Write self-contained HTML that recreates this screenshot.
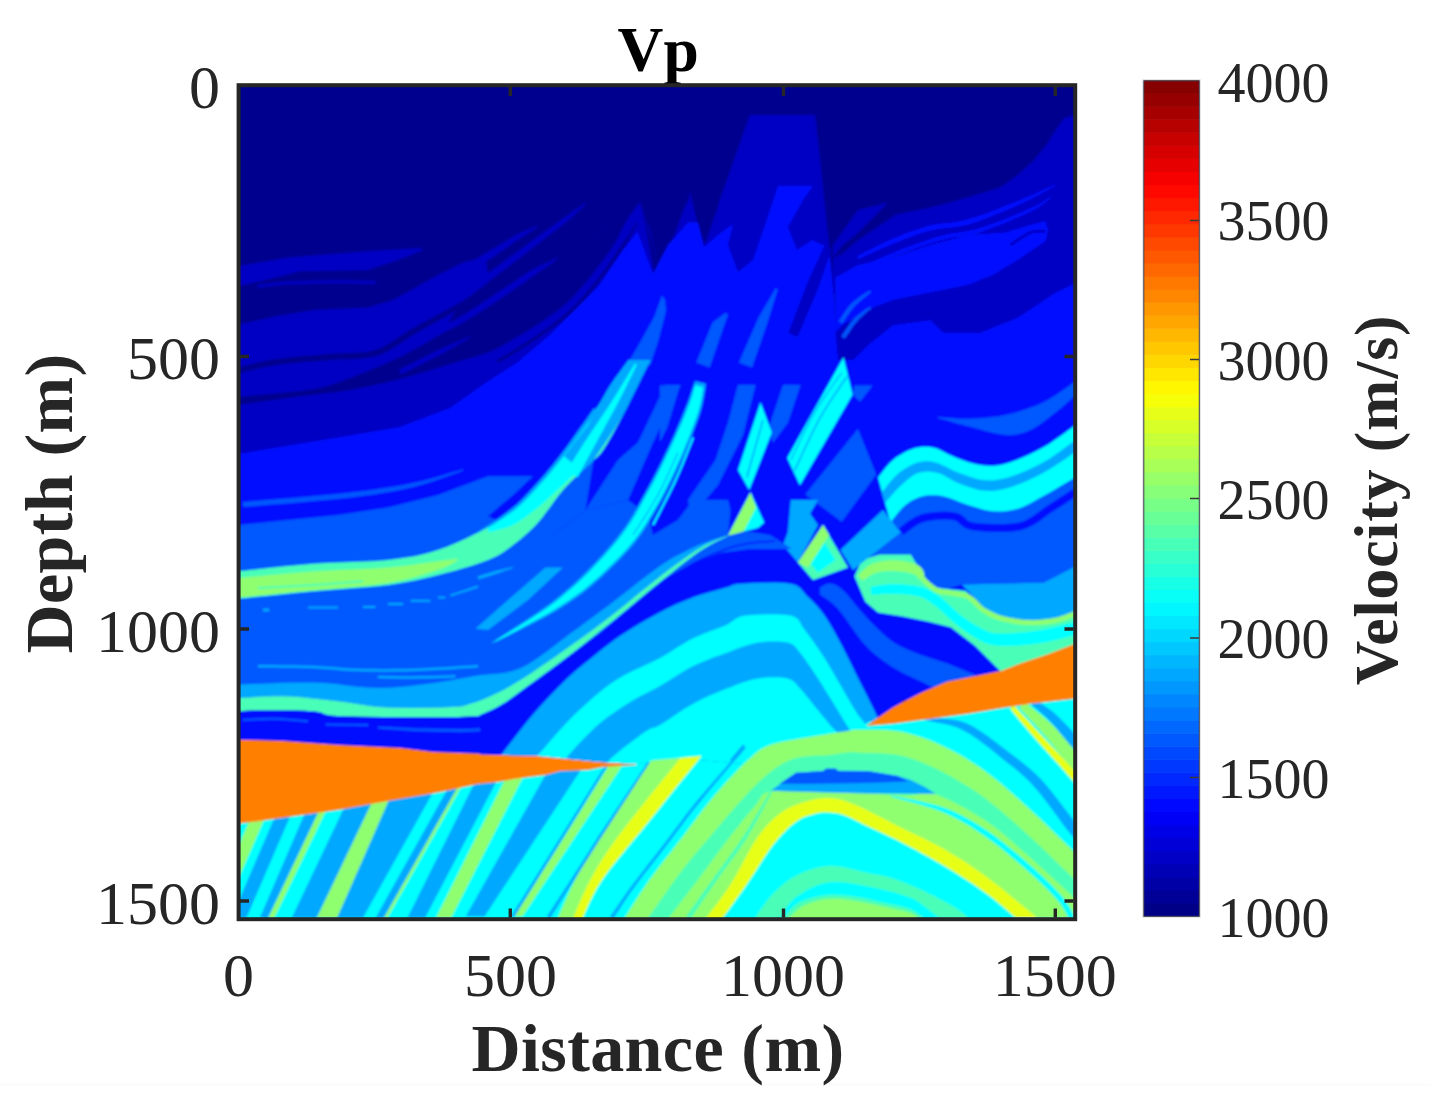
<!DOCTYPE html>
<html><head><meta charset="utf-8"><title>Vp</title>
<style>
html,body{margin:0;padding:0;background:#fff;}
body{width:1431px;height:1101px;overflow:hidden;}
svg{display:block;}
text{font-family:"Liberation Serif",serif;fill:#262626;}
.tk{font-size:62px;}
.ck{font-size:56px;}
.lb{font-size:68px;font-weight:bold;letter-spacing:0.4px;}
.cl{font-size:61.5px;font-weight:bold;letter-spacing:0.9px;}
.tt{font-size:63.5px;font-weight:bold;fill:#000;}
</style></head><body>
<svg width="1431" height="1101" viewBox="0 0 1431 1101">
<rect width="1431" height="1101" fill="#fff"/>
<rect x="0" y="1083" width="1431" height="3" fill="#fcfcfc"/>
<defs><clipPath id="pc"><rect x="238" y="84" width="838" height="836"/></clipPath><filter id="bl" x="0" y="0" width="1431" height="1101" filterUnits="userSpaceOnUse"><feGaussianBlur stdDeviation="0.8"/></filter></defs>
<text class="tt" x="658.2" y="70.6" text-anchor="middle">Vp</text>
<g clip-path="url(#pc)"><g filter="url(#bl)">
<rect x="230" y="80" width="860" height="850" fill="#00008f"/>
<polygon fill="#0000c4" points="238.0,266.2 288.0,257.5 368.0,251.2 420.5,248.0 423.0,250.0 398.0,260.0 368.0,270.0 300.5,271.2 275.5,277.5 238.0,286.2"/>
<polygon fill="#0000c4" points="258.2,287.7 261.2,287.4 265.2,286.8 270.1,286.2 275.6,285.5 281.6,285.0 288.1,284.5 295.4,284.2 303.7,283.9 312.6,283.6 321.5,283.4 330.2,283.3 338.0,283.2 345.4,283.3 352.8,283.4 359.8,283.5 366.2,283.7 371.5,283.9 375.5,284.0 375.5,281.0 371.6,280.9 366.3,280.7 359.9,280.5 352.8,280.4 345.4,280.3 338.0,280.3 330.1,280.3 321.5,280.4 312.5,280.6 303.6,280.9 295.3,281.2 287.9,281.5 281.4,282.0 275.2,282.6 269.7,283.2 264.8,283.8 260.8,284.4 257.8,284.8"/>
<polygon fill="#0000c4" points="235.5,325.5 275.5,316.2 313.0,310.0 368.0,307.5 393.0,300.0 438.0,275.0 463.0,262.5 485.5,257.5 488.0,275.0 463.0,297.5 443.0,332.5 413.0,359.8 413.0,485.0 235.5,485.0"/>
<polygon fill="#0000c4" points="537.3,225.8 535.0,226.6 531.9,227.9 528.2,229.4 524.2,231.2 520.1,233.1 516.1,235.0 512.3,237.1 508.5,239.4 504.6,241.7 500.6,244.2 496.4,246.7 492.0,249.3 487.2,252.2 482.0,255.3 476.6,258.4 471.3,261.5 466.2,264.4 461.5,266.8 457.1,268.9 452.6,270.8 448.2,272.6 444.2,274.0 440.8,275.3 438.2,276.2 442.0,285.5 444.4,284.4 447.7,283.0 451.7,281.4 456.2,279.4 461.0,277.2 465.7,274.7 470.5,271.9 475.6,268.7 480.9,265.2 486.1,261.7 491.1,258.4 495.7,255.2 500.0,252.3 504.1,249.5 507.9,246.7 511.6,244.1 515.2,241.6 518.7,239.3 522.2,236.8 526.0,234.4 529.7,232.1 533.0,229.9 535.8,228.1 537.8,226.7"/>
<polygon fill="#0000c4" points="585.1,203.1 582.8,204.6 579.7,206.7 576.1,209.2 572.0,212.1 567.6,215.2 562.9,218.4 558.0,222.0 552.6,226.0 546.8,230.2 540.8,234.6 534.8,238.9 529.0,243.1 523.4,247.3 517.7,251.4 512.1,255.6 506.4,259.7 500.8,263.8 495.1,268.0 489.5,272.1 483.8,276.3 478.2,280.5 472.5,284.6 466.9,288.7 461.3,292.7 455.3,296.9 448.8,301.4 442.3,305.8 436.2,309.9 431.1,313.3 427.4,315.8 432.6,323.2 436.2,320.6 441.2,317.0 447.1,312.8 453.6,308.2 460.0,303.6 466.0,299.2 471.5,295.0 477.1,290.8 482.7,286.5 488.2,282.1 493.8,277.8 499.3,273.6 504.9,269.3 510.4,265.0 516.0,260.8 521.5,256.5 527.1,252.2 532.6,247.9 538.3,243.6 544.2,239.1 550.1,234.6 555.8,230.2 561.1,226.1 566.0,222.3 570.3,218.6 574.3,214.9 578.0,211.5 581.2,208.5 583.8,205.9 585.8,203.9"/>
<polygon fill="#0000c4" points="557.5,257.7 554.4,259.0 550.3,260.9 545.5,263.2 540.2,265.8 534.7,268.6 529.2,271.6 523.8,275.0 518.2,278.7 512.4,282.7 506.6,286.7 500.7,290.6 495.0,294.3 489.4,298.1 483.8,301.8 478.2,305.5 472.7,309.2 467.1,312.7 461.6,316.1 456.0,319.3 450.4,322.3 444.8,325.3 439.2,328.2 433.5,331.1 427.9,334.0 421.9,337.0 415.5,340.2 409.0,343.3 403.0,346.2 397.9,348.6 394.2,350.3 398.6,359.3 402.2,357.4 407.2,354.8 413.2,351.8 419.6,348.5 426.1,345.2 432.1,342.0 437.7,338.9 443.2,335.9 448.8,332.8 454.4,329.6 460.1,326.3 465.7,322.9 471.3,319.5 477.0,315.9 482.6,312.2 488.2,308.5 493.9,304.7 499.5,301.0 505.1,296.9 510.8,292.6 516.5,288.4 522.1,284.2 527.4,280.2 532.5,276.6 537.4,273.0 542.4,269.5 547.3,266.2 551.7,263.2 555.3,260.6 558.0,258.6"/>
<polygon fill="#0000c4" points="238.0,400.0 420.0,352.0 470.0,325.0 520.0,290.0 560.0,262.0 600.0,232.0 640.0,203.0 650.0,230.0 660.0,275.0 690.0,192.0 700.0,235.0 705.0,245.0 718.0,205.0 750.0,115.0 815.0,115.0 820.0,160.0 828.0,235.0 836.0,310.0 848.0,385.0 848.0,420.0 238.0,470.0"/>
<polygon fill="#00008f" points="232.7,374.9 237.4,373.8 243.8,372.1 251.3,370.2 259.6,368.3 268.2,366.4 276.5,365.0 284.9,363.8 293.8,362.9 303.1,362.1 312.5,361.4 321.6,360.7 330.2,360.0 338.4,359.5 346.3,359.3 354.1,359.1 361.8,358.6 369.4,357.6 376.9,355.9 383.9,353.2 390.3,349.8 396.4,346.0 402.4,341.9 408.7,337.8 415.5,333.6 423.0,329.3 431.1,324.8 439.5,320.1 448.1,315.3 456.8,310.3 465.3,305.1 474.3,299.4 484.0,293.0 493.7,286.4 502.8,280.3 510.4,275.0 515.8,271.3 514.2,268.7 508.5,272.3 500.7,277.2 491.5,283.1 481.6,289.3 471.8,295.4 462.7,300.9 454.2,305.8 445.5,310.6 436.9,315.3 428.4,319.8 420.2,324.2 412.5,328.4 405.5,332.7 399.1,337.0 393.1,341.0 387.3,344.6 381.4,347.7 375.1,350.1 368.4,351.7 361.3,352.6 353.9,353.1 346.1,353.3 338.1,353.5 329.8,354.0 321.1,354.7 312.0,355.4 302.6,356.1 293.3,356.9 284.2,357.9 275.5,359.0 267.0,360.5 258.3,362.4 249.9,364.4 242.3,366.3 235.9,367.9 231.3,369.1"/>
<polygon fill="#00008f" points="230.0,397.5 239.3,396.7 252.6,395.6 268.1,394.2 284.1,392.7 299.0,391.1 311.0,389.5 319.8,387.9 326.7,386.3 332.4,384.6 337.7,382.7 343.3,380.5 350.0,378.0 357.8,375.1 366.1,371.8 374.8,368.3 383.4,364.6 391.9,360.8 400.0,357.0 407.8,353.0 415.7,348.7 423.3,344.4 430.6,340.1 437.2,336.3 443.0,333.0 447.6,330.5 451.2,328.7 454.1,327.3 456.9,325.9 460.1,324.3 464.0,322.0 468.8,319.1 474.1,315.8 479.7,312.2 485.5,308.5 491.3,304.7 497.0,301.0 502.7,297.2 508.5,293.3 514.4,289.2 520.1,285.3 525.7,281.5 531.0,278.0 536.0,274.8 540.7,271.8 545.2,269.0 549.6,266.3 553.9,263.6 558.0,261.0 562.0,258.4 565.8,255.8 569.4,253.3 573.0,250.9 576.5,248.4 580.0,246.0 583.4,243.7 586.6,241.4 589.8,239.2 593.0,237.0 596.4,234.6 600.0,232.0 604.0,229.0 608.4,225.7 612.9,222.2 617.3,218.9 621.4,215.7 625.0,213.0 628.1,210.7 631.0,208.6 633.6,206.8 635.8,205.3 637.6,204.0 639.0,203.0 636.0,208.0 634.9,209.4 633.5,211.2 631.8,213.4 629.9,216.0 628.0,218.9 626.0,222.0 624.1,225.4 622.3,229.2 620.4,233.2 618.3,237.6 615.9,242.2 613.0,247.0 609.5,252.2 605.6,258.0 601.2,263.9 596.8,269.9 592.3,275.7 588.0,281.0 583.9,285.9 579.8,290.4 575.8,294.8 571.6,299.0 567.4,303.0 563.0,307.0 558.5,310.8 554.0,314.3 549.4,317.8 544.6,321.1 539.5,324.5 534.0,328.0 528.0,331.7 521.6,335.6 514.9,339.4 508.0,343.2 501.0,346.8 494.0,350.0 487.0,352.8 479.9,355.2 472.6,357.4 465.3,359.6 457.7,361.7 450.0,364.0 442.0,366.5 433.8,369.1 425.4,371.7 416.9,374.3 408.4,376.7 400.0,379.0 391.5,381.1 382.9,383.2 374.3,385.1 365.9,386.9 357.7,388.6 350.0,390.0 343.3,391.1 337.7,391.9 332.4,392.5 326.7,393.1 319.8,393.9 311.0,395.0 299.0,396.6 284.1,398.6 268.1,400.8 252.6,402.9 239.3,404.7 230.0,406.0"/>
<polygon fill="#0000c4" points="401.1,374.2 405.6,372.0 411.9,368.9 419.2,365.2 427.0,361.3 434.6,357.5 441.1,354.2 446.9,351.0 452.7,347.7 458.2,344.6 463.1,341.7 467.2,339.3 470.2,337.4 469.8,336.6 466.5,337.8 462.1,339.7 456.8,341.9 451.0,344.4 445.0,347.1 438.9,349.8 432.3,353.0 424.8,356.8 417.0,360.7 409.6,364.4 403.3,367.5 398.9,369.8"/>
<polygon fill="#0000c4" points="639.2,203.0 637.8,204.8 636.0,207.3 633.8,210.4 631.4,213.8 628.9,217.4 626.6,221.0 624.5,224.8 622.6,228.7 620.6,232.8 618.5,237.0 616.1,241.5 613.2,246.1 609.7,251.3 605.7,256.9 601.4,262.7 596.9,268.6 592.4,274.3 588.1,279.6 584.0,284.5 580.1,289.1 576.1,293.6 572.1,297.9 567.8,302.1 563.2,306.2 558.1,310.3 552.7,314.3 547.0,318.3 541.3,322.1 535.5,325.9 529.8,329.6 524.0,333.1 518.2,336.6 512.4,339.9 506.6,343.2 501.1,346.3 495.9,349.3 490.9,352.2 485.9,355.1 481.1,357.9 476.8,360.4 473.2,362.5 470.5,364.0 473.6,369.1 476.2,367.5 479.7,365.2 483.9,362.6 488.6,359.7 493.6,356.6 498.5,353.6 503.6,350.5 509.0,347.2 514.7,343.8 520.4,340.3 526.2,336.6 531.9,332.9 537.6,329.3 543.5,325.5 549.3,321.6 555.0,317.6 560.6,313.5 565.8,309.3 570.5,305.0 574.9,300.7 579.1,296.3 583.1,291.7 587.1,287.0 591.2,282.1 595.6,276.8 600.1,271.0 604.6,265.1 609.0,259.2 613.0,253.6 616.6,248.3 619.5,243.5 622.1,238.9 624.2,234.6 626.2,230.5 628.1,226.6 630.1,223.0 632.1,219.3 634.2,215.6 636.3,212.0 638.2,208.8 639.8,206.1 640.9,204.1"/>
<polygon fill="#00008f" points="637.1,221.8 635.6,224.1 633.5,227.3 631.1,231.1 628.4,235.4 625.3,240.0 622.0,244.7 618.5,250.0 614.5,255.8 610.1,262.0 605.7,268.3 601.2,274.3 596.9,279.9 592.7,285.1 588.5,290.2 584.3,295.1 580.2,299.7 576.0,304.2 571.8,308.3 567.7,312.1 563.7,315.6 559.6,318.8 555.5,322.0 551.3,325.1 546.8,328.4 541.9,331.8 536.7,335.4 531.4,338.9 526.1,342.4 521.1,345.6 516.6,348.5 512.4,351.0 508.4,353.4 504.7,355.6 501.3,357.5 498.6,359.0 496.5,360.2 498.0,362.8 500.0,361.6 502.8,360.1 506.2,358.2 509.9,356.0 514.0,353.6 518.2,351.0 522.7,348.1 527.7,344.9 533.0,341.4 538.4,337.9 543.6,334.3 548.5,330.8 553.0,327.5 557.3,324.4 561.5,321.2 565.6,317.9 569.7,314.4 573.9,310.5 578.1,306.3 582.4,301.8 586.6,297.1 590.8,292.1 595.0,287.0 599.2,281.8 603.6,276.1 608.1,270.0 612.6,263.7 616.9,257.5 620.9,251.7 624.5,246.4 627.6,241.4 630.4,236.6 632.9,232.1 635.0,228.1 636.7,224.8 638.0,222.3"/>
<polygon fill="#00008f" points="641.8,206.2 654.2,273.8 690.5,195.0 675.5,205.0 656.8,260.0"/>
<polygon fill="#00008f" points="695.0,202.5 704.2,242.5 718.5,206.2"/>
<polygon fill="#0000c4" points="833.0,245.0 858.0,210.0 888.0,202.5 878.0,212.5 858.0,232.5 838.0,257.5 858.0,240.0 896.0,214.5 930.5,207.5 958.5,200.0 1000.0,187.5 1016.8,175.8 1033.5,160.8 1047.0,144.0 1055.5,130.5 1063.8,118.8 1073.0,115.2 1079.2,114.5 1079.2,420.0 833.0,420.0"/>
<polygon fill="#00008f" points="835.5,257.5 858.0,240.0 878.0,225.0 868.0,225.0 843.0,245.0 833.0,257.5"/>
<polygon fill="#0010ff" points="238.0,454.0 338.0,437.5 400.0,427.0 450.0,408.0 484.0,384.0 518.0,362.0 551.0,334.0 568.0,317.0 585.0,300.0 598.0,287.0 623.0,250.0 637.5,232.0 653.0,274.0 668.0,245.0 688.0,222.5 698.0,222.5 704.0,247.0 718.0,235.0 733.0,224.0 728.0,245.0 738.0,272.0 753.0,260.0 765.0,225.0 778.0,186.0 813.0,186.0 803.0,200.0 788.0,227.0 797.0,250.0 812.0,240.0 829.0,248.0 834.0,300.0 836.0,335.0 853.0,360.0 868.0,345.0 893.0,325.0 930.5,320.0 943.0,332.5 980.5,332.5 1018.0,317.5 1055.5,292.5 1080.0,281.0 1080.0,700.0 238.0,700.0"/>
<polygon fill="#0010ff" points="858.6,258.9 862.5,257.2 867.8,254.8 874.0,252.0 880.8,249.0 887.6,246.1 894.0,243.6 900.0,241.1 906.2,238.7 912.4,236.3 918.7,234.1 924.9,232.1 931.1,230.4 937.0,229.2 942.8,228.4 948.7,227.8 954.9,227.2 961.5,226.1 968.7,224.4 976.5,221.9 985.0,218.8 993.8,215.3 1002.6,211.7 1011.0,208.2 1018.8,204.8 1026.1,201.3 1033.5,197.6 1040.4,193.9 1046.7,190.5 1051.9,187.6 1055.7,185.4 1055.3,184.6 1051.2,186.3 1045.8,188.7 1039.3,191.7 1032.2,194.9 1024.7,198.1 1017.2,201.2 1009.4,204.3 1001.0,207.7 992.2,211.2 983.4,214.4 975.0,217.3 967.3,219.6 960.5,221.2 954.2,222.2 948.2,222.9 942.2,223.5 936.2,224.3 929.9,225.6 923.5,227.4 917.1,229.4 910.7,231.6 904.4,234.0 898.2,236.5 892.0,238.9 885.7,241.8 878.9,245.1 872.3,248.4 866.2,251.5 861.1,254.2 857.4,256.1"/>
<polygon fill="#0010ff" points="868.6,266.4 872.7,264.8 878.4,262.6 885.1,259.9 892.3,257.1 899.5,254.3 906.2,251.9 912.4,249.6 918.7,247.3 924.9,245.2 931.1,243.1 937.3,241.2 943.5,239.4 949.5,238.1 955.4,237.1 961.3,236.2 967.4,235.2 974.0,233.9 981.1,231.9 989.1,229.1 998.0,225.7 1007.3,221.9 1016.2,218.1 1024.4,214.5 1031.1,211.4 1036.4,208.5 1040.7,205.8 1044.2,203.3 1046.9,201.1 1049.1,199.3 1050.8,197.9 1050.2,197.1 1048.3,198.2 1045.9,199.8 1043.1,201.7 1039.5,203.8 1035.2,206.2 1029.9,208.6 1023.1,211.6 1014.9,215.0 1005.9,218.7 996.7,222.3 987.8,225.5 979.9,228.1 973.1,230.0 966.7,231.3 960.7,232.2 954.7,233.1 948.7,234.1 942.5,235.6 936.2,237.3 929.9,239.3 923.6,241.4 917.3,243.6 911.1,245.8 904.8,248.1 898.1,250.7 890.9,253.7 883.7,256.7 877.1,259.5 871.5,261.9 867.4,263.6"/>
<polygon fill="#0010ff" points="835.5,277.5 858.0,265.0 893.0,257.5 930.5,245.0 968.0,235.0 1005.5,232.5 1030.5,225.0 1045.5,221.2 1048.0,230.0 1045.5,241.2 1018.0,260.0 993.0,275.0 968.0,285.0 930.5,292.5 893.0,300.0 868.0,310.0 843.0,325.0 835.5,332.5"/>
<polygon fill="#0000c4" points="1011.3,246.2 1013.6,244.7 1016.7,242.6 1020.4,240.1 1024.3,237.6 1027.9,235.4 1031.0,233.9 1033.8,233.1 1036.6,232.7 1039.3,232.6 1041.7,232.7 1043.9,232.8 1045.5,232.7 1045.5,229.8 1044.0,229.8 1041.8,229.7 1039.2,229.6 1036.3,229.7 1033.1,230.2 1030.0,231.1 1026.5,232.8 1022.7,235.0 1018.7,237.6 1015.0,240.1 1011.9,242.3 1009.7,243.8"/>
<polygon fill="#0000c4" points="843.0,325.0 868.0,310.0 893.0,300.0 930.5,292.5 968.0,285.0 993.0,275.0 1018.0,260.0 1045.5,241.2 1055.5,225.0 1075.8,205.0 1075.8,282.5 1055.5,292.5 1018.0,317.5 980.5,332.5 943.0,332.5 930.5,320.0 893.0,325.0 868.0,345.0 853.0,359.8 838.0,359.8 835.5,332.5"/>
<polygon fill="#0000c4" points="824.3,246.0 807.4,282.8 788.4,333.1 797.6,336.9 818.6,287.2 831.7,249.0"/>
<polygon fill="#0058ff" points="842.2,323.6 843.5,321.6 845.2,318.9 847.3,315.7 849.6,312.4 852.0,309.2 854.4,306.4 857.0,303.7 860.1,300.9 863.4,298.2 866.6,295.8 869.2,293.6 871.1,292.1 869.9,290.4 867.9,291.8 865.0,293.6 861.6,295.8 858.1,298.3 854.6,301.0 851.6,303.6 848.9,306.6 846.4,310.0 844.0,313.5 841.9,316.7 840.1,319.5 838.8,321.4"/>
<polygon fill="#0058ff" points="844.7,338.6 846.0,336.6 847.8,333.9 850.0,330.7 852.3,327.3 854.7,324.1 857.0,321.4 859.3,318.8 861.9,316.3 864.7,313.8 867.3,311.6 869.5,309.7 871.1,308.3 869.9,306.7 868.1,307.9 865.7,309.5 862.9,311.5 859.8,313.7 856.8,316.1 854.0,318.6 851.6,321.6 849.1,324.9 846.7,328.4 844.5,331.7 842.7,334.4 841.3,336.4"/>
<polygon fill="#0058ff" points="627.0,365.0 638.8,344.8 654.3,317.0 662.0,295.4 665.0,300.0 666.0,311.0 658.0,341.8 650.0,365.0"/>
<polygon fill="#0058ff" points="709.6,367.5 723.4,327.5 727.9,314.7 725.6,312.8 712.6,322.5 696.4,362.5"/>
<polygon fill="#0058ff" points="752.0,367.5 767.6,321.9 777.7,289.2 775.8,288.3 758.4,318.1 739.0,362.5"/>
<polygon fill="#0058ff" points="243.2,507.0 255.4,506.0 272.7,504.5 293.1,502.9 314.2,501.0 334.2,499.2 350.8,497.5 364.0,495.8 375.5,494.2 385.7,492.6 395.1,490.9 404.2,489.0 413.5,486.9 423.1,484.3 432.9,481.3 442.3,478.1 450.8,475.0 457.9,472.4 463.2,470.5 462.8,469.5 457.5,471.0 450.2,473.1 441.5,475.7 432.0,478.4 422.2,480.9 412.5,483.1 403.4,484.9 394.4,486.6 385.0,488.1 374.8,489.6 363.4,491.0 350.2,492.5 333.7,494.2 313.8,496.1 292.6,497.9 272.3,499.6 255.0,501.0 242.8,502.0"/>
<polygon fill="#0058ff" points="238.0,525.0 338.0,515.0 388.0,507.5 438.0,495.0 488.0,476.2 533.0,476.2 513.0,495.0 488.0,516.2 513.0,527.5 538.0,503.8 563.0,472.5 595.8,427.5 595.8,445.0 585.5,510.0 553.0,535.0 553.0,710.0 238.0,710.0"/>
<polygon fill="#48ffb7" points="238.0,571.2 246.2,570.4 257.4,569.2 270.8,567.7 285.2,566.2 299.6,564.9 313.0,563.8 325.8,563.0 338.9,562.5 352.1,562.0 364.9,561.6 376.9,560.9 388.0,560.0 397.8,558.8 406.5,557.6 414.6,556.2 422.3,554.5 430.0,552.5 438.0,550.0 446.6,546.9 455.6,543.2 464.6,539.2 473.2,535.1 481.1,531.1 488.0,527.5 493.6,524.4 498.2,521.6 502.1,518.9 505.6,516.2 509.1,513.3 513.0,510.0 517.2,506.3 521.3,502.4 525.5,498.3 529.7,494.0 533.8,489.5 538.0,485.0 542.1,480.5 546.0,475.9 550.0,471.2 554.1,466.3 558.4,460.9 563.0,455.0 568.2,448.1 574.0,440.4 580.0,432.2 585.8,424.1 591.2,416.5 595.8,410.0 599.3,404.7 602.0,400.2 604.3,396.2 606.4,392.6 608.5,388.9 611.0,385.0 614.0,380.5 617.5,375.7 621.0,370.9 624.2,366.5 627.0,362.7 629.0,360.0 650.5,360.0 649.9,361.0 649.3,362.2 648.5,363.7 647.4,365.8 645.9,368.7 644.0,372.5 641.5,377.6 638.4,384.0 634.9,391.1 631.2,398.5 627.5,405.9 624.0,412.8 620.5,419.4 616.9,426.2 613.2,433.0 609.6,439.3 606.2,445.1 603.0,450.0 600.3,453.7 597.9,456.3 595.8,458.3 593.5,460.1 591.0,462.2 588.0,465.0 584.4,468.5 580.4,472.3 576.1,476.4 571.7,480.7 567.3,485.3 563.0,490.0 558.8,495.1 554.7,500.6 550.5,506.4 546.3,512.1 542.2,517.6 538.0,522.5 533.8,526.9 529.7,531.0 525.5,534.8 521.3,538.4 517.2,541.8 513.0,545.0 509.1,547.9 505.6,550.6 502.1,553.0 498.2,555.3 493.6,557.6 488.0,560.0 481.1,562.6 473.2,565.2 464.6,567.8 455.6,570.4 446.6,572.8 438.0,575.0 430.0,577.0 422.3,578.8 414.6,580.5 406.5,582.1 397.8,583.6 388.0,585.0 376.9,586.2 364.9,587.3 352.1,588.3 338.9,589.2 325.8,590.2 313.0,591.2 299.6,592.5 285.2,593.9 270.8,595.4 257.4,596.8 246.2,597.9 238.0,598.8"/>
<polygon fill="#8fff70" points="238.0,578.0 246.2,577.3 257.4,576.2 270.8,575.0 285.2,573.7 299.6,572.5 313.0,571.5 325.8,570.7 338.9,570.1 352.1,569.5 364.9,568.9 376.9,568.3 388.0,567.5 398.1,566.5 407.6,565.4 416.4,564.3 424.5,563.1 431.7,562.1 438.0,561.2 443.3,560.6 447.6,560.0 451.1,559.6 453.9,559.3 456.2,559.0 458.0,558.8 458.0,560.0 456.2,561.1 453.9,562.5 451.1,564.2 447.6,566.1 443.3,568.0 438.0,570.0 431.7,572.1 424.5,574.3 416.4,576.7 407.6,579.0 398.1,581.1 388.0,583.0 376.9,584.5 364.9,585.8 352.1,586.8 338.9,587.9 325.8,588.9 313.0,590.0 299.6,591.3 285.2,592.7 270.8,594.2 257.4,595.5 246.2,596.7 238.0,597.5"/>
<polygon fill="#48ffb7" points="258.1,589.0 264.1,588.7 272.5,588.2 282.4,587.7 293.1,587.2 303.5,586.6 313.1,586.0 322.3,585.4 332.0,584.7 341.5,583.9 350.3,583.2 357.7,582.7 363.1,582.2 362.9,580.3 357.5,580.7 350.1,581.3 341.4,581.9 331.8,582.7 322.1,583.4 312.9,584.0 303.4,584.6 292.9,585.2 282.3,585.7 272.4,586.3 264.0,586.7 257.9,587.0"/>
<polygon fill="#00ffff" points="488.0,528.0 490.7,526.2 494.5,523.7 498.9,520.8 503.7,517.5 508.5,514.1 513.0,510.5 517.2,506.8 521.3,502.9 525.5,498.8 529.7,494.5 533.8,490.0 538.0,485.5 542.1,481.0 546.0,476.4 550.0,471.8 554.1,466.8 558.4,461.4 563.0,455.5 568.2,448.6 574.0,440.9 580.0,432.7 585.8,424.6 591.2,417.0 595.8,410.5 599.3,405.1 602.0,400.5 604.3,396.5 606.4,392.7 608.5,389.0 611.0,385.0 614.0,380.5 617.5,375.7 621.0,370.9 624.2,366.5 627.0,362.7 629.0,360.0 638.0,360.0 637.2,362.7 636.2,366.4 635.0,370.8 633.6,375.6 632.1,380.4 630.5,385.0 628.8,389.4 626.9,393.8 624.9,398.3 622.7,402.9 620.4,407.6 618.0,412.5 615.3,417.8 612.4,423.6 609.2,429.5 606.1,435.2 603.2,440.5 600.5,445.0 598.3,448.6 596.4,451.3 594.7,453.7 592.9,455.9 590.7,458.3 588.0,461.2 584.6,464.8 580.6,468.7 576.3,472.7 571.8,476.9 567.3,481.0 563.0,485.0 558.8,488.9 554.7,492.8 550.5,496.6 546.3,500.4 542.2,504.1 538.0,507.5 533.8,510.8 529.7,514.1 525.5,517.2 521.3,520.1 517.2,522.7 513.0,525.0 508.5,526.9 503.7,528.5 498.9,529.8 494.5,530.9 490.7,531.8 488.0,532.5"/>
<polygon fill="#00a8ff" points="478.3,532.9 482.3,530.6 487.9,527.3 494.5,523.4 501.4,519.1 508.1,514.8 513.9,510.7 518.7,506.6 523.1,502.6 527.2,498.5 531.1,494.3 535.1,490.0 539.1,485.5 543.2,481.0 547.2,476.4 551.2,471.7 555.3,466.7 559.6,461.4 564.2,455.4 569.7,448.3 575.9,439.9 582.4,431.1 588.5,422.8 593.7,415.7 597.4,410.7 594.1,408.3 590.5,413.5 585.5,420.7 579.5,429.1 573.2,438.0 567.1,446.4 561.8,453.6 557.2,459.5 552.9,464.9 548.9,469.8 544.9,474.4 541.0,479.0 536.9,483.5 532.8,488.0 528.9,492.3 525.0,496.4 521.0,500.4 516.8,504.4 512.1,508.3 506.6,512.6 500.1,517.2 493.4,521.7 487.0,525.9 481.6,529.5 477.7,532.1"/>
<polygon fill="#00a8ff" points="308.0,608.5 338.0,608.5 338.0,606.5 308.0,606.5"/>
<polygon fill="#00a8ff" points="363.0,608.0 375.5,608.0 375.5,606.0 363.0,606.0"/>
<polygon fill="#00a8ff" points="388.0,605.0 403.0,605.0 403.0,603.0 388.0,603.0"/>
<polygon fill="#00a8ff" points="410.5,601.8 430.5,601.8 430.5,599.8 410.5,599.8"/>
<polygon fill="#00a8ff" points="438.0,598.5 445.5,598.5 445.5,596.5 438.0,596.5"/>
<polygon fill="#00a8ff" points="450.8,596.4 455.0,595.1 461.0,593.1 468.0,590.9 475.4,588.4 482.4,585.8 488.4,583.4 493.6,580.9 498.7,578.1 503.4,575.3 507.5,572.7 511.0,570.4 513.5,568.9 512.5,567.1 509.9,568.8 506.4,571.0 502.3,573.6 497.7,576.4 492.7,579.1 487.6,581.6 481.7,584.0 474.7,586.5 467.4,589.0 460.4,591.2 454.4,593.2 450.2,594.6"/>
<polygon fill="#00a8ff" points="263.0,611.5 269.2,611.5 269.2,608.5 263.0,608.5"/>
<polygon fill="#00a8ff" points="258.0,667.5 264.1,667.6 272.6,667.6 282.7,667.7 293.4,667.8 303.7,668.0 313.0,668.2 320.9,668.7 328.3,669.2 335.4,669.8 342.5,670.4 350.0,670.9 358.0,671.2 366.4,671.5 375.2,671.6 384.2,671.7 393.6,671.6 403.2,671.5 413.0,671.2 424.1,670.8 436.4,670.1 449.0,669.4 460.9,668.6 470.9,667.9 478.1,667.5 477.9,665.0 470.7,665.5 460.7,666.1 448.9,666.9 436.3,667.6 423.9,668.3 413.0,668.8 403.1,669.0 393.5,669.1 384.3,669.2 375.2,669.1 366.5,669.0 358.0,668.8 350.1,668.4 342.7,667.9 335.6,667.3 328.5,666.7 321.0,666.2 313.0,665.8 303.8,665.5 293.4,665.3 282.7,665.2 272.6,665.1 264.1,665.1 258.0,665.0"/>
<polygon fill="#00a8ff" points="378.0,678.2 381.7,678.3 386.8,678.4 392.8,678.6 399.5,678.7 406.3,678.8 413.0,678.7 420.2,678.6 428.2,678.4 436.5,678.2 444.2,677.9 450.8,677.7 455.5,677.5 455.5,675.0 450.7,675.2 444.2,675.4 436.4,675.7 428.1,675.9 420.1,676.1 413.0,676.3 406.3,676.3 399.5,676.2 392.9,676.1 386.8,675.9 381.7,675.8 378.0,675.8"/>
<polygon fill="#00a8ff" points="230.0,685.0 239.2,684.6 252.2,684.1 267.4,683.4 283.6,682.8 299.2,682.5 313.0,682.5 324.9,683.1 336.2,684.1 346.9,685.4 357.4,686.7 367.7,687.6 378.0,688.0 388.5,687.7 399.2,687.0 409.7,686.0 419.9,684.8 429.4,683.6 438.0,682.5 445.5,681.5 451.9,680.5 457.7,679.4 463.3,678.3 469.1,677.2 475.5,676.0 482.5,675.1 489.8,674.4 497.4,673.8 505.0,672.7 512.9,670.9 520.8,668.0 529.0,663.7 537.5,658.2 546.1,651.9 554.7,645.4 563.1,638.9 571.0,633.0 578.4,627.7 585.4,622.6 592.2,617.6 598.9,612.6 605.8,607.4 613.0,602.0 620.7,596.1 628.9,589.7 637.2,583.1 645.4,576.8 653.1,571.0 660.0,566.0 666.1,562.0 671.6,558.6 676.6,555.8 681.2,553.4 685.7,551.2 690.0,549.0 694.4,546.9 698.7,545.1 702.9,543.4 706.6,542.0 709.7,540.9 712.0,540.0 728.0,535.5 725.1,536.7 721.2,538.1 716.5,540.0 711.3,542.2 705.7,544.8 700.0,548.0 694.1,551.7 687.8,556.0 681.2,560.7 674.3,565.7 667.2,571.0 660.0,576.5 652.5,582.4 644.7,588.7 636.6,595.3 628.6,602.0 620.6,608.5 613.0,614.5 605.8,620.0 598.9,625.2 592.2,630.2 585.4,635.2 578.4,640.2 571.0,645.5 562.9,651.2 554.2,657.4 545.3,663.6 536.5,669.6 528.3,675.2 520.8,680.0 514.2,684.0 508.3,687.4 502.8,690.4 497.7,692.9 492.8,695.3 488.0,697.5 484.0,699.6 480.9,701.3 478.1,702.9 474.7,704.2 470.0,705.3 463.0,706.2 453.1,707.0 440.8,707.5 427.1,707.8 413.0,707.9 399.6,707.8 388.0,707.5 378.3,706.9 369.7,705.9 361.8,704.8 354.1,703.5 346.3,702.3 338.0,701.2 329.1,700.3 320.0,699.2 310.7,698.2 301.4,697.3 292.1,696.6 283.0,696.2 273.4,696.3 263.2,696.6 253.1,697.2 243.7,697.8 235.7,698.4 230.0,698.8"/>
<polygon fill="#48ffb7" points="230.0,698.8 235.7,698.4 243.7,697.8 253.1,697.2 263.2,696.6 273.4,696.3 283.0,696.2 292.1,696.6 301.4,697.3 310.7,698.2 320.0,699.2 329.1,700.3 338.0,701.2 346.3,702.3 354.1,703.5 361.8,704.8 369.7,705.9 378.3,706.9 388.0,707.5 399.6,707.8 413.0,707.9 427.1,707.8 440.8,707.5 453.1,707.0 463.0,706.2 470.0,705.3 474.7,704.2 478.1,702.9 480.9,701.3 484.0,699.6 488.0,697.5 492.8,695.3 497.7,692.9 502.8,690.4 508.3,687.4 514.2,684.0 520.8,680.0 528.3,675.2 536.5,669.6 545.3,663.6 554.2,657.4 562.9,651.2 571.0,645.5 578.4,640.2 585.4,635.2 592.2,630.2 598.9,625.2 605.8,620.0 613.0,614.5 620.6,608.5 628.6,602.0 636.6,595.3 644.7,588.7 652.5,582.4 660.0,576.5 667.2,571.0 674.3,565.7 681.2,560.7 687.8,556.0 694.1,551.7 700.0,548.0 705.7,544.8 711.3,542.2 716.5,540.0 721.2,538.1 725.1,536.7 728.0,535.5 728.0,536.0 725.1,537.4 721.2,539.3 716.5,541.6 711.3,544.3 705.7,547.4 700.0,551.0 694.1,555.2 687.8,559.9 681.2,565.0 674.3,570.5 667.2,576.2 660.0,582.0 652.5,588.1 644.7,594.5 636.6,601.2 628.6,607.9 620.6,614.5 613.0,620.7 605.8,626.5 598.9,632.1 592.2,637.5 585.4,642.8 578.4,648.3 571.0,654.0 562.8,660.2 553.8,666.9 544.5,673.7 535.6,680.2 527.5,686.1 520.8,691.0 515.7,694.7 512.0,697.5 509.1,699.6 506.5,701.4 503.8,703.1 500.5,705.0 497.8,707.2 496.5,709.4 495.0,711.5 492.0,713.4 485.9,715.1 475.5,716.2 458.5,717.0 435.5,717.3 409.6,717.3 383.6,717.0 360.4,716.7 343.0,716.2 332.4,715.7 326.5,714.8 323.5,713.8 321.4,712.8 318.5,711.9 313.0,711.2 304.3,710.8 293.9,710.6 282.6,710.4 271.4,710.4 261.2,710.4 253.0,710.5 246.8,710.7 241.7,711.0 237.8,711.5 234.6,711.9 232.1,712.3 230.0,712.5"/>
<polygon fill="#0010ff" points="238.0,712.5 239.1,712.3 240.2,711.9 241.8,711.5 244.1,711.0 247.7,710.7 253.0,710.5 260.7,710.4 270.8,710.4 282.1,710.4 293.6,710.6 304.2,710.8 313.0,711.2 318.5,711.9 321.4,712.8 323.5,713.8 326.5,714.8 332.4,715.7 343.0,716.2 360.4,716.7 383.6,717.0 409.6,717.3 435.5,717.3 458.5,717.0 475.5,716.2 485.9,715.1 492.0,713.4 495.0,711.5 496.5,709.4 497.9,707.2 500.5,705.0 503.8,703.1 506.5,701.4 509.0,699.6 512.0,697.5 515.7,694.7 520.8,691.0 527.8,685.9 536.5,679.4 546.1,672.3 555.6,665.3 564.2,659.0 571.0,654.0 576.0,650.5 579.8,647.9 582.6,645.9 584.8,644.5 586.5,643.5 588.0,642.5 605.5,647.5 602.2,650.2 597.5,653.8 592.1,658.2 586.2,663.0 580.6,667.8 575.5,672.5 571.0,677.1 566.8,681.9 562.7,686.7 558.6,691.6 554.6,696.5 550.5,701.2 546.3,706.0 542.2,710.7 538.0,715.3 533.8,719.9 529.7,724.4 525.5,728.8 521.8,733.1 518.7,737.7 515.7,742.1 512.0,746.1 507.1,749.5 500.5,752.0 491.3,753.4 479.9,753.9 467.2,753.7 454.5,753.2 442.7,752.5 433.0,752.0 425.9,751.5 420.7,750.9 416.4,750.2 412.3,749.4 407.2,748.6 400.5,748.0 391.7,747.5 381.6,747.1 370.7,746.7 359.4,746.4 348.3,746.0 338.0,745.5 328.3,744.9 318.7,744.3 309.4,743.6 300.3,743.0 291.5,742.4 283.0,742.0 274.4,741.7 265.6,741.5 257.1,741.4 249.3,741.3 242.8,741.3 238.0,741.2"/>
<polygon fill="#0058ff" points="243.1,721.0 246.6,720.8 251.5,720.5 257.3,720.2 263.5,719.9 269.7,719.8 275.5,719.7 281.2,720.0 287.5,720.4 293.7,720.9 299.5,721.5 304.4,721.9 307.9,722.2 308.1,720.3 304.6,719.9 299.7,719.5 293.9,718.9 287.6,718.4 281.3,718.0 275.5,717.8 269.7,717.8 263.4,717.9 257.2,718.2 251.4,718.5 246.5,718.8 242.9,719.0"/>
<polygon fill="#0058ff" points="325.5,725.5 368.0,726.0 368.0,724.0 325.5,723.5"/>
<polygon fill="#0058ff" points="377.9,728.5 383.3,728.9 390.5,729.5 399.2,730.1 408.7,730.7 418.5,731.2 428.0,731.5 437.8,731.7 448.5,731.8 459.6,731.9 470.3,731.7 480.0,731.2 488.3,730.2 494.6,728.7 499.6,726.8 503.5,724.4 506.9,721.9 510.2,719.1 513.9,716.2 518.0,713.0 522.1,709.5 526.1,705.9 530.1,702.0 534.4,697.9 539.0,693.6 544.3,688.6 550.4,682.9 556.7,677.0 562.6,671.4 567.6,666.6 571.2,663.2 569.8,661.8 566.1,665.1 561.0,669.7 555.0,675.2 548.6,681.0 542.4,686.5 537.0,691.4 532.4,695.7 528.1,699.8 524.0,703.7 520.1,707.3 516.1,710.7 512.1,713.8 508.3,716.8 505.0,719.5 501.9,722.0 498.3,724.1 493.8,725.8 487.7,727.3 479.8,728.2 470.2,728.7 459.6,728.9 448.6,728.8 437.9,728.7 428.0,728.5 418.6,728.4 408.8,728.0 399.3,727.6 390.7,727.1 383.4,726.7 378.1,726.5"/>
<clipPath id="cs"><polygon points="230,770 478,768 560,764 636,762 700,756 760,745 760,930 230,930"/></clipPath><g clip-path="url(#cs)">
<polygon fill="#00ffff" points="230,735 640,735 760,735 760,930 230,930"/>
<polygon fill="#8fff70" points="206.1,918.0 221.2,918.0 273.6,798.1 259.6,798.1"/>
<polygon fill="#00a8ff" points="231.3,918.0 246.4,918.0 299.8,793.9 284.8,793.9"/>
<polygon fill="#00a8ff" points="259.8,918.0 268.2,918.0 331.1,786.5 316.4,786.5"/>
<polygon fill="#8fff70" points="268.2,918.0 274.1,918.0 338.0,785.5 331.1,785.5"/>
<polygon fill="#00a8ff" points="291.7,918.0 316.8,918.0 386.0,777.1 358.8,777.1"/>
<polygon fill="#8fff70" points="316.8,918.0 337.0,918.0 404.0,772.9 386.0,772.9"/>
<polygon fill="#00a8ff" points="337.0,918.0 362.9,918.0 447.9,765.6 404.0,765.6"/>
<polygon fill="#00a8ff" points="375.5,918.0 383.9,918.0 474.1,760.3 463.6,760.3"/>
<polygon fill="#8fff70" points="383.9,918.0 387.3,918.0 477.4,758.2 474.1,758.2"/>
<polygon fill="#00a8ff" points="407.4,918.0 425.0,918.0 512.0,751.9 490.0,751.9"/>
<polygon fill="#8fff70" points="435.9,918.0 451.0,918.0 539.0,745.7 521.9,745.7"/>
<polygon fill="#00a8ff" points="465.7,916.4 484.5,916.4 600.1,740.7 564.7,740.7"/>
<polygon fill="#00a8ff" points="510.9,916.4 514.7,916.4 629.1,731.3 626.5,731.3"/>
<polygon fill="#8fff70" points="514.7,916.4 522.3,916.4 644.9,731.3 630.3,731.3"/>
<polygon fill="#00a8ff" points="546.8,916.4 550.6,916.4 676.0,721.8 674.2,721.8"/>
</g>
<polygon fill="#ff8000" points="230.0,739.5 283.0,741.0 338.0,745.0 400.5,748.0 433.0,752.0 500.5,754.5 538.0,755.0 565.5,758.8 603.0,760.5 636.0,762.5 636.0,765.0 603.0,767.0 588.0,770.0 560.5,771.0 545.5,775.0 515.5,778.8 498.0,782.0 478.0,784.0 438.0,792.5 388.0,801.0 338.0,810.0 275.5,818.8 230.0,825.0"/>
<clipPath id="ca"><polygon points="500,500 1080,500 1080,930 868,726 800,735 745,742 700,756 636,762 560,758 500,754"/></clipPath>
<clipPath id="ca2"><polygon points="480,440 1080,440 1080,730 868,732 800,750 745,764 700,760 636,764 600,762 538,756 500,755 480,754.5"/></clipPath><g clip-path="url(#ca2)">
<polygon fill="#0010ff" points="460.0,716.3 461.6,716.4 463.7,716.7 466.2,717.0 469.1,717.1 472.2,716.9 475.5,716.2 479.2,715.1 483.3,713.4 487.7,711.5 492.2,709.4 496.5,707.2 500.5,705.0 503.8,703.1 506.5,701.4 509.1,699.6 512.0,697.5 515.7,694.7 520.8,691.0 527.5,686.1 535.6,680.2 544.5,673.7 553.8,666.9 562.8,660.2 571.0,654.0 578.4,648.3 585.4,642.9 592.2,637.5 598.9,632.1 605.8,626.6 613.0,620.7 620.7,614.2 628.8,607.1 637.1,599.9 645.2,592.9 652.9,586.4 660.0,581.0 666.3,576.7 672.2,573.1 677.6,570.1 682.7,567.6 687.7,565.3 692.7,563.0 697.5,560.8 702.1,558.9 706.5,557.1 710.9,555.6 715.4,554.2 720.0,553.0 724.8,551.9 729.8,551.1 734.8,550.4 739.8,549.8 744.9,549.4 750.0,549.0 755.3,548.6 760.8,548.2 766.3,547.8 771.7,547.8 776.7,548.1 781.0,549.0 784.6,550.6 787.7,552.8 790.4,555.4 792.8,558.2 795.1,561.1 797.6,563.8 800.0,566.6 802.3,569.6 804.4,572.7 806.6,575.7 809.1,578.3 811.8,580.4 814.9,581.9 818.2,583.0 821.8,583.7 825.5,584.3 829.2,584.6 833.0,585.0 836.6,585.0 840.1,584.4 843.6,583.7 847.5,583.2 851.9,583.5 857.0,585.0 863.6,586.4 871.5,587.2 880.0,588.7 888.1,592.3 895.1,599.2 900.0,611.0 902.5,630.4 903.2,657.1 902.7,687.1 901.6,716.8 900.5,742.4 900.0,760.0 900.0,940.0 460.0,940.0"/>
<polygon fill="#00a8ff" points="480.0,790.0 481.7,787.1 484.2,783.0 487.1,778.2 490.0,773.2 492.8,768.6 495.0,765.0 496.3,762.7 497.0,761.4 497.4,760.5 498.1,759.4 499.5,757.4 502.0,754.0 505.9,748.8 510.9,742.3 516.6,734.9 522.6,727.2 528.6,719.8 534.3,713.0 539.8,706.8 545.4,700.7 551.0,694.8 556.4,689.2 561.6,684.0 566.4,679.3 570.6,675.3 574.3,672.0 577.8,669.0 581.2,666.2 584.9,663.3 589.0,660.0 593.6,656.3 598.4,652.3 603.4,648.3 608.7,644.2 614.2,640.0 620.0,636.0 626.2,631.9 632.9,627.7 639.9,623.6 646.9,619.5 653.7,615.7 660.0,612.3 665.9,609.3 671.4,606.6 676.8,604.1 682.1,601.8 687.3,599.7 692.7,597.6 698.3,595.6 704.2,593.8 710.1,592.0 715.7,590.5 720.9,589.0 725.4,587.8 728.7,586.7 730.8,585.9 732.5,585.1 734.4,584.6 737.3,584.1 741.7,583.7 748.4,583.3 756.9,582.9 766.3,582.7 775.7,582.6 784.1,582.9 790.8,583.7 795.4,585.0 798.6,586.7 800.9,588.7 802.8,591.0 804.7,593.5 807.0,596.0 809.7,598.6 812.5,601.2 815.2,604.0 818.0,607.1 820.8,610.4 823.5,614.0 826.2,618.0 828.9,622.3 831.7,626.9 834.4,631.7 837.1,636.7 839.8,641.7 842.5,646.8 845.1,652.0 847.8,657.3 850.5,662.8 853.3,668.5 856.2,674.4 859.4,680.8 862.9,687.7 866.5,694.8 869.9,701.7 873.1,708.1 875.8,713.7 878.0,718.5 880.0,722.9 881.6,726.8 883.0,730.1 884.1,732.9 885.0,735.0 885.0,940.0 480.0,940.0"/>
<polygon fill="#00ffff" points="515.0,785.0 516.0,783.4 517.4,781.1 519.1,778.5 521.0,775.6 523.0,772.7 525.0,770.0 526.9,767.6 528.6,765.5 530.5,763.4 532.7,761.0 535.5,757.9 539.0,754.0 543.4,748.9 548.5,743.0 554.2,736.4 560.3,729.5 566.6,722.7 572.9,716.3 579.4,710.1 586.1,703.9 593.0,697.7 600.1,691.8 607.3,686.1 614.6,681.0 622.1,676.4 629.9,672.3 637.9,668.5 645.7,665.0 653.1,661.5 660.0,658.0 666.2,654.5 671.8,651.0 677.1,647.6 682.3,644.4 687.4,641.3 692.7,638.5 698.3,635.9 704.1,633.5 709.9,631.3 715.5,629.3 720.7,627.3 725.4,625.4 729.1,623.5 731.9,621.5 734.4,619.7 737.0,618.0 740.4,616.6 745.0,615.6 751.5,614.9 759.5,614.4 768.3,614.2 777.0,614.3 784.8,614.7 790.8,615.6 794.8,616.9 797.3,618.5 799.0,620.4 800.3,622.8 801.7,625.5 803.9,628.7 806.8,632.5 810.1,636.9 813.5,641.7 817.0,646.7 820.3,651.7 823.5,656.5 826.4,661.1 829.2,665.7 831.9,670.2 834.5,674.8 837.1,679.4 839.8,684.0 842.6,688.8 845.5,693.9 848.4,698.9 851.2,703.8 853.8,708.2 856.2,712.0 858.2,715.0 860.0,717.4 861.6,719.3 863.0,721.1 864.5,722.9 866.0,725.0 867.7,727.6 869.4,730.4 871.1,733.3 872.7,736.0 874.0,738.3 875.0,740.0 875.0,940.0 515.0,940.0"/>
<polygon fill="#00a8ff" points="547.0,785.0 548.1,783.4 549.5,781.1 551.2,778.5 553.1,775.6 555.1,772.7 557.0,770.0 558.8,767.5 560.4,765.2 562.1,762.9 564.1,760.4 566.5,757.5 569.6,754.0 573.4,749.8 577.9,744.8 582.9,739.6 588.1,734.2 593.4,729.0 598.6,724.3 603.8,720.1 609.2,716.0 614.6,712.2 620.1,708.5 625.5,705.1 630.7,701.8 635.7,698.8 640.5,696.1 645.3,693.7 650.1,691.2 655.0,688.7 660.0,685.9 665.3,682.8 670.6,679.4 676.1,675.9 681.7,672.5 687.2,669.2 692.7,666.3 698.2,663.7 703.6,661.4 709.1,659.2 714.5,657.1 720.0,655.2 725.4,653.2 730.9,651.2 736.4,649.1 741.9,647.1 747.4,645.3 752.7,643.7 758.0,642.6 763.3,641.9 768.7,641.5 774.1,641.4 779.1,641.5 783.7,642.0 787.5,642.6 790.4,643.4 792.5,644.4 794.1,645.6 795.5,647.2 797.0,649.1 799.0,651.5 801.4,654.5 804.1,658.0 806.8,661.9 809.7,666.0 812.5,670.2 815.3,674.4 818.0,678.5 820.7,682.8 823.4,687.1 826.1,691.5 828.9,696.0 831.7,700.6 834.7,705.5 838.0,710.8 841.3,716.2 844.4,721.4 847.3,726.1 849.6,730.0 851.4,733.1 852.8,735.7 853.9,737.8 854.8,739.5 855.4,740.9 856.0,742.0 856.0,940.0 547.0,940.0"/>
<polygon fill="#00ffff" points="590.0,785.0 591.0,783.4 592.4,781.1 594.0,778.5 595.9,775.6 597.9,772.7 600.0,770.0 602.1,767.5 604.3,765.0 606.7,762.5 609.3,759.9 612.4,757.1 616.0,754.0 620.5,750.3 625.8,746.1 631.6,741.7 637.3,737.4 642.5,733.6 646.8,730.7 649.8,728.9 651.8,728.1 653.3,727.7 654.8,727.4 656.9,726.6 660.0,725.0 664.3,722.3 669.5,718.9 675.1,715.0 681.1,711.0 687.0,707.2 692.7,703.9 698.2,701.0 703.6,698.3 709.1,695.8 714.5,693.4 720.0,691.2 725.4,689.0 730.9,686.9 736.4,684.8 741.9,682.8 747.4,681.1 752.7,679.6 758.0,678.5 763.3,677.8 768.7,677.3 774.0,677.2 779.0,677.3 783.6,677.8 787.5,678.5 790.6,679.6 793.0,680.9 795.0,682.6 796.7,684.6 798.5,686.7 800.6,689.0 802.9,691.5 805.3,694.4 807.7,697.4 810.2,700.6 812.7,703.8 815.3,707.0 818.1,710.3 821.0,713.9 824.0,717.6 826.9,721.0 829.5,724.2 831.7,726.7 833.3,728.5 834.5,729.7 835.4,730.5 836.2,731.2 837.0,732.1 838.0,733.3 839.2,735.1 840.5,737.3 841.9,739.6 843.2,741.8 844.2,743.7 845.0,745.0 845.0,940.0 590.0,940.0"/>
<polygon fill="#00a8ff" points="743.0,744.5 729.9,760.0 732.2,761.9 745.3,746.5"/>
</g>
<g clip-path="url(#cs)">
<polygon fill="#8fff70" points="556.0,922.0 558.0,917.5 560.6,911.3 563.8,904.0 567.3,896.0 571.1,887.8 575.0,880.0 578.9,872.7 582.8,865.5 587.0,858.1 591.6,850.3 596.9,841.7 603.0,832.0 610.7,820.1 620.0,806.1 630.0,791.4 639.6,777.2 648.0,764.9 654.0,756.0 657.4,750.9 659.0,748.6 659.2,748.2 658.7,749.0 658.1,749.8 658.0,750.0 686.0,750.0 686.2,749.8 687.1,748.8 687.8,748.0 687.7,748.3 685.9,750.6 681.7,756.0 674.1,765.5 663.5,778.5 651.3,793.6 638.8,809.3 627.2,823.9 618.0,836.0 611.2,845.4 605.7,853.4 601.2,860.4 597.3,866.8 593.7,873.2 590.0,880.0 586.1,887.6 582.3,895.7 578.8,903.8 575.6,911.2 573.0,917.5 571.0,922.0"/>
<polygon fill="#e7ff18" points="571.0,922.0 573.0,917.5 575.6,911.2 578.8,903.8 582.3,895.7 586.1,887.6 590.0,880.0 593.7,873.2 597.3,866.8 601.2,860.4 605.7,853.4 611.2,845.4 618.0,836.0 627.2,823.9 638.8,809.3 651.3,793.6 663.5,778.5 674.1,765.5 681.7,756.0 685.9,750.6 687.7,748.3 687.8,748.0 687.1,748.8 686.2,749.8 686.0,750.0 706.0,750.0 706.0,750.0 706.5,749.4 706.9,749.0 706.6,749.5 704.9,751.6 701.4,756.0 695.5,763.4 687.6,773.2 678.4,784.6 668.6,796.8 658.9,808.9 650.0,820.0 641.5,830.4 632.7,841.0 624.1,851.4 615.9,861.5 608.4,871.1 602.0,880.0 596.7,888.5 592.2,896.9 588.5,904.8 585.4,911.8 583.0,917.6 581.0,922.0"/>
<polygon fill="#00a8ff" points="613.1,919.1 615.2,915.8 618.0,911.4 621.5,906.1 625.3,900.3 629.5,894.1 633.9,887.9 638.7,881.5 643.9,874.6 649.5,867.4 655.3,860.1 661.0,852.7 666.6,845.5 671.9,838.6 676.9,831.8 682.0,825.0 687.2,818.1 692.9,810.8 699.2,802.9 706.7,793.8 715.5,783.3 724.7,772.4 733.5,762.1 741.0,753.4 746.3,747.2 744.7,745.8 739.3,752.0 731.8,760.6 722.8,770.8 713.5,781.5 704.5,791.9 696.8,801.1 690.5,808.9 684.8,816.3 679.6,823.2 674.5,830.0 669.5,836.8 664.2,843.7 658.6,850.9 652.9,858.2 647.2,865.6 641.6,872.8 636.3,879.7 631.5,886.1 627.0,892.3 622.6,898.4 618.6,904.2 615.0,909.4 612.0,913.7 609.7,916.9"/>
<polygon fill="#00a8ff" points="549.9,918.8 601.3,837.3 649.8,762.5 648.2,761.5 598.7,835.7 547.3,917.2"/>
</g>
<polygon fill="#00ffff" points="850.0,735.0 868.0,722.0 1090.0,690.0 1090.0,880.0 900.0,735.0"/>
<polygon fill="#00a8ff" points="924.9,720.0 929.1,721.1 935.0,722.2 941.8,723.5 949.1,725.1 956.3,727.3 962.9,730.3 969.4,733.8 976.2,738.3 983.2,743.4 990.2,748.8 996.9,754.3 1003.2,759.4 1009.0,763.9 1014.3,768.1 1019.3,772.2 1024.1,776.4 1028.9,781.1 1033.9,786.4 1039.4,792.8 1045.2,800.3 1051.2,808.2 1057.0,816.1 1062.2,823.3 1066.7,829.2 1070.4,833.7 1073.5,837.4 1076.0,840.2 1078.0,842.5 1079.6,844.2 1080.9,845.7 1089.1,838.3 1087.8,836.9 1086.2,835.1 1084.2,832.9 1081.8,830.2 1078.8,826.7 1075.3,822.4 1070.9,816.8 1065.5,809.7 1059.6,801.9 1053.4,793.9 1047.2,786.3 1041.3,779.6 1035.8,774.1 1030.5,769.3 1025.3,764.9 1020.1,760.8 1014.6,756.6 1008.8,752.2 1002.4,747.3 995.5,742.0 988.3,736.6 980.9,731.4 973.5,726.7 966.1,722.9 958.3,720.6 950.3,719.2 942.5,718.5 935.4,718.2 929.4,718.1 925.1,718.0"/>
<polygon fill="#e7ff18" points="1010.1,708.6 1012.7,711.8 1016.2,716.1 1020.5,721.2 1025.2,726.8 1030.1,732.6 1035.0,738.3 1040.3,744.3 1046.2,750.8 1052.3,757.6 1058.2,764.1 1063.6,770.1 1068.0,775.2 1071.6,779.2 1074.6,782.7 1077.0,785.6 1079.0,788.0 1080.6,790.0 1081.9,791.6 1088.1,786.4 1086.8,784.9 1085.2,782.9 1083.2,780.5 1080.7,777.5 1077.6,774.0 1074.0,769.8 1069.4,764.8 1063.8,758.9 1057.8,752.5 1051.6,745.9 1045.6,739.5 1040.2,733.7 1035.1,728.2 1029.9,722.6 1025.0,717.2 1020.5,712.4 1016.7,708.3 1013.9,705.4"/>
<polygon fill="#8fff70" points="1019.3,707.9 1021.9,710.9 1025.5,714.8 1029.9,719.4 1034.5,724.3 1039.1,729.3 1043.3,734.2 1047.4,738.8 1051.7,743.9 1056.0,749.2 1060.2,754.3 1064.1,759.2 1067.7,763.6 1071.0,767.3 1074.0,770.8 1076.8,774.0 1079.3,776.7 1081.3,778.9 1082.8,780.6 1093.2,771.4 1091.7,769.6 1089.7,767.4 1087.3,764.7 1084.5,761.6 1081.5,758.1 1078.3,754.4 1074.7,750.3 1070.7,745.6 1066.4,740.5 1061.8,735.3 1057.3,730.1 1052.7,725.2 1047.7,720.7 1042.4,716.1 1037.0,711.7 1032.0,707.7 1027.8,704.4 1024.7,702.1"/>
<polygon fill="#00a8ff" points="1031.2,704.4 1033.1,706.2 1035.8,708.4 1038.9,711.1 1042.3,714.0 1045.7,717.1 1048.9,720.3 1052.1,723.7 1055.5,727.6 1059.0,731.7 1062.5,735.9 1065.8,739.9 1068.9,743.7 1071.9,747.0 1074.9,750.4 1077.7,753.6 1080.2,756.4 1082.3,758.8 1083.9,760.6 1092.1,753.4 1090.6,751.6 1088.5,749.2 1085.9,746.3 1083.1,743.1 1080.1,739.7 1077.1,736.3 1073.8,732.9 1070.3,729.1 1066.5,725.0 1062.6,721.0 1058.8,717.2 1055.1,713.7 1051.3,710.6 1047.3,707.7 1043.4,705.1 1039.9,702.8 1037.0,700.9 1034.8,699.6"/>
<polygon fill="#8fff70" points="624.5,918.0 627.1,914.0 630.5,908.5 634.7,902.0 639.3,894.8 644.2,887.6 649.0,880.6 654.0,873.8 659.3,866.8 664.8,859.6 670.5,852.4 676.2,845.1 681.7,838.0 687.2,830.8 692.6,823.6 698.1,816.3 703.5,809.1 709.0,802.2 714.4,795.6 720.0,789.2 725.6,782.8 731.3,776.7 736.8,770.9 742.1,765.6 747.0,761.0 751.2,757.2 754.7,754.0 758.0,751.3 761.4,749.1 765.3,747.0 770.0,745.0 775.7,743.2 782.1,741.7 789.1,740.4 796.2,739.2 803.3,738.1 810.0,737.0 816.8,735.8 823.8,734.7 830.8,733.6 837.3,732.6 843.2,731.7 848.0,731.0 851.2,730.5 852.8,730.1 853.8,729.8 854.8,729.7 856.6,729.7 860.0,729.7 865.2,729.7 871.7,729.7 879.0,729.8 886.8,730.0 894.5,730.7 901.8,731.8 908.8,733.4 915.7,735.4 922.7,737.7 929.7,740.3 936.6,743.2 943.6,746.4 950.6,749.9 957.5,753.6 964.5,757.6 971.5,762.0 978.4,766.6 985.4,771.5 992.3,776.7 999.3,782.3 1006.2,788.2 1013.1,794.3 1020.1,800.6 1027.2,807.0 1034.8,814.0 1042.9,821.6 1051.1,829.5 1058.8,837.0 1065.6,843.6 1071.0,848.8 1074.8,852.4 1077.4,854.9 1079.0,856.5 1080.0,857.5 1080.7,858.3 1081.5,859.0 1090.0,859.0 1090.0,940.0 624.5,940.0"/>
<polygon fill="#48ffb7" points="648.0,918.0 651.7,912.8 656.8,905.5 662.8,896.9 669.3,887.7 675.8,878.8 681.7,870.8 687.2,863.8 692.7,857.0 698.1,850.5 703.5,844.2 709.0,837.9 714.4,831.5 719.9,825.0 725.6,818.3 731.2,811.7 736.7,805.4 742.0,799.4 747.0,794.0 751.6,789.2 755.8,784.9 759.9,781.0 763.8,777.4 767.7,774.1 771.7,771.0 775.7,768.1 779.5,765.6 783.3,763.2 787.2,761.2 791.4,759.5 796.0,758.0 801.3,756.9 807.2,756.2 813.4,755.8 819.5,755.6 825.2,755.4 830.0,755.0 833.9,754.5 837.2,754.0 840.1,753.6 842.6,753.1 845.1,752.8 847.5,752.5 849.5,752.3 851.0,752.3 852.2,752.2 853.8,752.3 856.3,752.5 860.0,752.7 865.3,752.9 871.8,753.0 879.1,753.2 886.8,753.7 894.5,754.5 901.8,755.8 908.8,757.7 915.7,760.0 922.7,762.7 929.7,765.7 936.6,769.0 943.6,772.5 950.6,776.2 957.5,780.2 964.5,784.4 971.5,788.8 978.4,793.6 985.4,798.6 992.3,803.9 999.3,809.5 1006.2,815.4 1013.1,821.5 1020.1,827.8 1027.2,834.2 1034.8,841.2 1042.9,848.8 1051.1,856.7 1058.8,864.2 1065.6,870.8 1071.0,876.0 1074.8,879.7 1077.4,882.2 1079.0,883.8 1080.0,884.9 1080.7,885.6 1081.5,886.4 1090.0,886.4 1090.0,940.0 648.0,940.0"/>
<polygon fill="#8fff70" points="668.7,918.0 672.1,913.5 676.9,907.3 682.5,899.9 688.6,892.0 694.6,884.2 700.0,877.0 705.0,870.3 709.9,863.6 714.8,856.9 719.6,850.4 724.4,844.1 729.0,838.0 733.6,832.1 738.3,826.2 742.8,820.5 747.2,815.1 751.3,810.2 755.0,806.0 757.8,802.4 759.5,799.3 761.0,796.7 762.9,794.5 766.0,792.8 771.0,791.5 778.5,790.8 788.0,790.7 798.7,791.1 809.7,791.7 820.1,792.2 829.0,792.6 836.3,792.8 842.6,792.9 848.4,793.0 853.9,793.2 859.7,793.4 866.0,793.6 873.1,793.9 880.9,794.3 888.8,794.7 896.5,795.1 903.7,795.4 910.0,795.5 915.0,795.1 918.8,794.2 922.1,793.2 925.5,792.5 929.6,792.7 935.0,794.0 942.0,796.7 950.2,800.5 959.1,805.1 968.3,810.1 977.2,815.4 985.4,820.6 992.8,825.8 999.9,831.3 1006.7,837.0 1013.4,842.8 1020.2,848.9 1027.2,855.0 1034.8,861.7 1042.9,869.0 1051.1,876.4 1058.8,883.5 1065.6,889.8 1071.0,894.8 1074.8,898.3 1077.4,900.8 1079.0,902.4 1080.0,903.5 1080.7,904.2 1081.5,905.0 1090.0,905.0 1090.0,940.0 668.7,940.0"/>
<polygon fill="#48ffb7" points="690.0,919.4 693.0,915.0 697.2,909.0 702.1,901.8 707.4,894.1 712.7,886.3 717.6,879.2 722.4,872.6 727.1,866.1 732.0,859.6 736.8,852.9 741.5,846.1 746.2,839.1 750.9,831.1 755.9,822.2 760.8,813.2 765.4,804.8 769.2,797.6 771.9,792.5 770.1,791.5 767.1,796.5 763.0,803.5 758.2,811.8 753.0,820.6 747.8,829.2 742.8,836.9 738.2,843.9 733.5,850.6 728.7,857.2 723.9,863.7 719.1,870.2 714.4,876.8 709.3,883.9 703.8,891.6 698.4,899.2 693.3,906.3 689.1,912.3 686.0,916.6"/>
<polygon fill="#00a8ff" points="770.8,790.7 780.0,784.0 796.0,772.7 829.0,770.5 868.0,771.0 898.0,776.0 910.0,779.5 925.0,787.0 936.0,794.0 900.0,793.5 868.0,793.6 829.0,792.6 790.0,791.5"/>
<polygon fill="#0058ff" points="780.0,783.5 796.0,772.7 823.0,771.0 826.0,768.5 836.0,768.5 838.0,771.0 868.0,771.0 898.0,776.0 908.0,781.5 866.0,783.0 800.0,784.0"/>
<polygon fill="#00ffff" points="890.9,796.5 896.7,798.2 904.8,800.4 914.3,803.0 924.4,805.9 934.2,809.1 942.7,812.3 950.1,815.5 957.1,819.0 963.8,822.7 970.4,826.6 977.0,830.9 983.7,835.5 990.7,840.4 997.8,845.8 1005.0,851.5 1012.0,857.4 1018.8,863.2 1025.2,868.8 1031.3,874.2 1037.4,879.8 1043.1,885.2 1048.4,890.5 1053.2,895.5 1057.2,899.9 1060.5,904.0 1063.1,907.9 1065.1,911.4 1066.8,914.6 1068.2,917.4 1069.4,919.5 1074.6,916.5 1073.5,914.6 1072.2,911.9 1070.4,908.5 1068.1,904.7 1065.3,900.4 1061.8,896.1 1057.6,891.4 1052.7,886.3 1047.3,880.9 1041.5,875.4 1035.4,869.8 1029.2,864.2 1022.7,858.6 1015.9,852.8 1008.8,846.9 1001.5,841.1 994.2,835.6 987.1,830.5 980.1,826.0 973.3,821.8 966.5,817.9 959.5,814.2 952.2,810.8 944.5,807.7 935.5,804.9 925.4,802.4 915.0,800.1 905.3,798.2 897.0,796.6 891.1,795.5"/>
<polygon fill="#e7ff18" points="706.0,918.0 708.7,914.4 712.4,909.6 716.8,903.9 721.5,897.5 726.3,890.8 730.8,884.0 735.1,876.8 739.6,868.8 744.0,860.4 748.5,852.2 752.8,844.6 757.0,838.0 761.0,832.5 764.8,827.8 768.5,823.7 772.2,820.0 775.9,816.7 779.8,813.6 783.8,810.8 787.8,808.5 791.9,806.5 796.1,804.8 800.2,803.3 804.4,802.0 808.6,800.8 812.8,799.7 817.1,798.8 821.3,798.2 825.6,797.9 830.0,798.0 834.2,798.4 838.2,799.1 842.3,800.1 846.6,801.5 851.5,803.2 857.0,805.5 863.5,808.4 870.7,812.0 878.5,815.9 886.4,820.1 894.3,824.2 901.8,828.0 908.9,831.5 916.0,834.8 922.9,838.1 929.8,841.5 936.7,845.0 943.6,848.8 950.6,852.9 957.5,857.2 964.5,861.6 971.5,866.2 978.4,871.0 985.4,876.0 992.7,881.5 1000.5,887.6 1008.3,893.9 1015.6,899.9 1022.1,905.2 1027.2,909.4 1030.8,912.4 1033.2,914.4 1034.7,915.8 1035.6,916.7 1036.3,917.4 1037.0,918.0 1090.0,918.0 1090.0,940.0 706.0,940.0"/>
<polygon fill="#00ffff" points="722.6,918.0 725.2,914.4 728.9,909.4 733.2,903.5 737.8,897.0 742.5,890.4 747.0,884.0 751.3,877.6 755.8,870.7 760.3,863.6 764.7,856.7 769.1,850.3 773.3,844.6 777.3,839.7 781.2,835.2 785.1,831.2 788.8,827.6 792.4,824.5 796.0,821.7 799.5,819.4 803.0,817.6 806.4,816.3 809.7,815.2 812.9,814.4 815.8,813.6 818.5,813.0 820.9,812.6 823.2,812.4 825.4,812.3 827.7,812.4 830.0,812.5 832.4,812.7 834.7,812.9 837.0,813.3 839.5,813.8 842.1,814.5 845.0,815.5 848.0,816.7 851.1,818.1 854.4,819.7 858.0,821.5 861.9,823.5 866.4,825.7 871.4,828.0 876.9,830.6 882.8,833.3 889.0,836.2 895.4,839.3 901.8,842.5 908.4,845.9 915.3,849.6 922.3,853.4 929.4,857.3 936.6,861.4 943.6,865.5 950.7,869.8 957.9,874.3 965.2,879.0 972.3,883.6 979.1,888.2 985.4,892.7 991.5,897.3 997.6,902.2 1003.3,907.1 1008.5,911.5 1012.8,915.3 1016.0,918.0 1090.0,918.0 1090.0,940.0 722.6,940.0"/>
<polygon fill="#48ffb7" points="755.0,918.0 756.7,915.5 759.0,912.0 761.8,907.9 765.0,903.5 768.3,899.2 771.7,895.3 775.2,891.7 778.9,888.2 782.8,884.7 786.9,881.4 791.3,878.4 796.0,875.7 801.1,873.3 806.5,871.1 812.2,869.2 818.1,867.6 824.1,866.5 830.0,866.0 836.1,866.2 842.4,867.1 848.8,868.5 855.1,870.0 861.0,871.6 866.4,872.8 871.1,873.7 875.2,874.4 879.0,875.0 882.7,875.8 886.6,876.7 891.0,878.0 895.9,879.6 901.1,881.5 906.4,883.6 911.9,885.8 917.4,888.2 922.7,890.6 928.1,893.2 933.8,896.0 939.4,898.9 944.8,901.8 949.8,904.5 954.0,907.0 957.6,909.3 960.6,911.5 963.3,913.5 965.4,915.3 967.2,916.9 968.6,918.0 939.4,918.0 937.5,916.5 934.9,914.4 931.8,912.0 928.6,909.4 925.4,907.0 922.7,905.0 920.6,903.4 919.0,902.1 917.4,901.0 915.7,899.9 913.3,898.7 910.0,897.4 905.7,895.9 900.6,894.3 895.0,892.6 888.9,890.9 882.4,889.4 875.8,888.0 868.7,886.6 861.0,885.0 852.9,883.5 844.8,882.3 837.1,881.7 830.0,882.0 823.4,883.2 817.1,885.2 811.1,887.8 805.6,890.8 800.5,893.9 796.0,897.0 792.1,900.4 788.7,904.3 785.8,908.4 783.3,912.3 781.4,915.6 779.8,918.0"/>
<polygon fill="#48ffb7" points="783.0,918.0 784.7,916.2 787.0,913.5 789.7,910.4 792.8,907.3 796.3,904.3 800.0,902.0 804.1,900.2 808.7,898.7 813.6,897.4 818.7,896.3 823.8,895.5 828.7,895.0 833.4,894.8 838.2,894.9 842.9,895.2 847.6,895.7 852.3,896.3 857.0,897.0 861.8,897.8 866.6,898.7 871.4,899.8 876.1,900.9 880.8,902.0 885.3,903.0 889.7,904.0 894.2,904.9 898.5,905.8 902.7,906.8 906.5,907.8 910.0,909.0 913.1,910.4 916.0,912.1 918.5,913.9 920.8,915.6 922.6,917.0 924.0,918.0 918.5,918.0 917.8,917.4 916.9,916.6 915.8,915.6 914.3,914.6 912.5,913.5 910.0,912.5 906.9,911.6 903.1,910.6 898.9,909.7 894.4,908.7 889.8,907.8 885.3,906.8 880.8,905.8 876.1,904.7 871.3,903.7 866.5,902.7 861.7,901.8 857.0,901.0 852.4,900.3 847.9,899.6 843.3,899.0 838.8,898.6 834.4,898.5 830.0,898.6 825.5,899.1 821.0,899.8 816.5,900.8 812.2,902.1 808.1,903.4 804.4,905.0 800.9,906.9 797.6,909.3 794.6,911.9 791.9,914.4 789.7,916.5 788.0,918.0"/>
<polygon fill="#8fff70" points="788.0,918.0 789.7,916.5 791.9,914.4 794.6,911.9 797.6,909.3 800.9,906.9 804.4,905.0 808.1,903.4 812.2,902.1 816.5,900.8 821.0,899.8 825.5,899.1 830.0,898.6 834.4,898.5 838.8,898.6 843.3,899.0 847.9,899.6 852.4,900.3 857.0,901.0 861.7,901.8 866.5,902.7 871.3,903.7 876.1,904.7 880.8,905.8 885.3,906.8 889.8,907.8 894.4,908.7 898.9,909.7 903.1,910.6 906.9,911.6 910.0,912.5 912.5,913.5 914.3,914.6 915.8,915.6 916.9,916.6 917.8,917.4 918.5,918.0 918.0,925.0 783.0,925.0"/>
<polygon fill="#0058ff" points="938.0,417.0 941.2,417.3 945.5,417.7 950.7,418.1 956.3,418.5 962.2,418.8 968.0,418.8 973.8,418.5 979.9,418.2 986.3,417.8 992.7,417.1 999.2,416.2 1005.5,415.0 1011.8,413.5 1018.2,411.8 1024.5,409.8 1030.9,407.6 1037.0,405.2 1043.0,402.5 1049.1,399.2 1055.5,395.3 1061.7,391.1 1067.4,387.1 1072.2,383.7 1075.8,381.2 1075.8,395.0 1073.6,396.9 1070.7,399.5 1067.2,402.7 1063.4,406.0 1059.4,409.4 1055.5,412.5 1051.6,415.6 1047.5,418.8 1043.3,422.0 1039.0,425.1 1034.7,427.8 1030.5,430.0 1026.5,431.7 1022.6,433.1 1018.8,434.1 1014.8,434.8 1010.4,435.1 1005.5,435.0 999.9,434.3 993.6,433.1 987.1,431.5 980.4,429.6 974.0,427.8 968.0,426.2 962.2,424.8 956.3,423.2 950.7,421.6 945.5,420.1 941.2,418.9 938.0,418.0"/>
<polygon fill="#0058ff" points="889.0,527.3 892.7,510.9 907.2,498.2 923.6,492.7 943.5,493.6 969.0,503.6 994.4,509.1 1019.9,507.3 1045.3,494.5 1080.0,476.4 1080.0,567.2 1073.5,567.2 1043.5,582.7 1001.7,583.6 961.7,584.5 947.2,589.0 932.6,587.2 921.7,572.7 910.8,554.5 880.0,554.5 861.8,560.0 854.5,569.0 856.3,560.0 892.7,539.1"/>
<polygon fill="#0010ff" points="903.2,535.0 905.5,533.4 908.6,531.0 912.1,528.4 915.9,525.7 919.9,523.5 923.8,522.0 928.3,521.0 933.5,520.2 939.0,519.8 944.5,519.6 949.5,519.8 953.7,520.3 956.2,521.1 957.9,522.3 959.9,524.2 962.6,526.6 966.6,528.8 971.9,530.3 978.6,531.1 986.6,531.8 995.4,532.1 1004.4,532.1 1013.0,531.5 1020.8,530.2 1027.5,528.1 1033.4,525.1 1038.7,521.7 1043.5,518.2 1048.2,514.7 1052.9,511.5 1058.2,508.2 1063.9,504.5 1069.5,500.8 1074.7,497.4 1079.0,494.5 1082.2,492.4 1077.8,485.8 1074.6,487.8 1070.3,490.7 1065.1,494.2 1059.5,497.8 1053.9,501.5 1048.6,504.8 1043.6,508.2 1038.8,511.8 1034.2,515.2 1029.4,518.2 1024.5,520.7 1018.9,522.4 1012.2,523.5 1004.1,524.1 995.5,524.1 987.1,523.8 979.4,523.2 973.3,522.4 969.5,521.4 967.2,520.1 965.3,518.3 963.0,516.1 959.6,513.8 955.2,512.4 950.1,511.8 944.5,511.6 938.6,511.8 932.6,512.3 926.8,513.1 921.5,514.3 916.5,516.3 911.7,518.9 907.4,521.8 903.7,524.6 900.7,527.0 898.5,528.5"/>
<polygon fill="#00a8ff" points="961.7,584.5 983.5,607.2 1001.7,616.3 1028.9,620.8 1056.2,618.1 1080.0,609.0 1080.0,563.6 1073.5,567.2 1043.5,582.7 1001.7,583.6"/>
<polygon fill="#48ffb7" points="854.5,576.3 861.8,560.0 880.0,554.5 910.8,554.5 921.7,572.7 932.6,587.2 947.2,589.0 965.3,590.8 983.5,607.2 1001.7,616.3 1028.9,620.8 1056.2,618.1 1080.0,609.0 1080.0,645.3 1047.1,656.2 1019.9,665.3 1001.7,672.6 974.4,645.3 950.8,627.2 929.0,621.7 901.8,616.3 878.1,612.6 865.4,601.7"/>
<polygon fill="#8fff70" points="862.5,580.8 864.2,579.8 866.3,578.3 868.7,576.6 871.3,575.0 873.8,573.7 876.2,572.8 878.9,572.2 882.1,571.6 885.6,571.3 889.1,571.1 892.7,571.1 896.0,571.3 899.4,571.4 902.8,571.8 906.3,572.3 909.4,573.0 912.1,573.7 914.0,574.4 915.0,574.7 915.8,575.1 916.6,576.0 917.4,577.1 918.2,578.4 919.0,579.4 924.5,576.9 924.4,576.0 924.3,574.6 923.9,572.6 923.0,570.2 921.2,567.7 918.6,565.5 915.5,564.1 912.1,563.0 908.4,562.1 904.5,561.3 900.5,560.7 896.6,560.3 892.7,560.3 888.6,560.5 884.5,560.8 880.5,561.4 876.6,562.3 872.8,563.4 869.3,565.3 866.1,567.6 863.4,570.0 861.1,572.2 859.4,574.1 858.1,575.4"/>
<polygon fill="#8fff70" points="920.1,580.0 921.7,581.4 923.8,583.4 926.5,585.7 929.3,588.2 932.3,590.4 935.1,592.1 937.8,593.3 940.5,594.0 943.0,594.4 945.4,594.7 947.8,595.0 950.4,595.5 953.3,596.0 956.4,596.5 959.5,597.0 962.5,597.5 965.3,598.3 967.8,599.4 970.0,600.9 972.2,602.9 974.4,605.2 976.7,607.7 979.3,610.2 982.1,612.3 985.0,614.1 987.8,615.7 990.8,617.2 993.9,618.5 997.3,619.8 1001.0,620.9 1005.1,621.9 1009.6,622.8 1014.4,623.7 1019.2,624.4 1024.1,624.9 1028.9,625.1 1033.5,625.2 1038.3,625.1 1043.0,624.7 1047.7,624.2 1052.3,623.6 1056.7,622.7 1061.3,621.5 1066.1,619.9 1070.7,618.2 1074.9,616.5 1078.4,615.1 1080.9,614.1 1079.1,609.4 1076.5,610.4 1073.0,611.9 1068.9,613.5 1064.4,615.2 1059.9,616.7 1055.6,617.8 1051.4,618.6 1047.0,619.3 1042.6,619.8 1038.0,620.1 1033.5,620.2 1029.0,620.1 1024.5,619.9 1019.8,619.4 1015.1,618.7 1010.6,617.9 1006.3,617.0 1002.3,616.0 998.9,615.0 995.7,613.9 992.9,612.7 990.1,611.3 987.5,609.8 984.9,608.2 982.6,606.4 980.3,604.2 978.1,601.8 975.7,599.3 973.1,597.0 970.2,595.0 967.0,593.6 963.6,592.7 960.3,592.0 957.1,591.5 954.1,591.1 951.3,590.6 948.6,590.1 946.0,589.8 943.7,589.5 941.5,589.1 939.5,588.6 937.4,587.7 935.1,586.3 932.5,584.3 929.7,582.0 927.2,579.7 925.0,577.7 923.4,576.2"/>
<polygon fill="#00ffff" points="871.3,594.8 873.7,594.7 876.8,594.5 880.5,594.2 884.6,594.0 888.7,593.9 892.6,594.0 896.8,594.1 901.4,594.3 906.1,594.6 910.7,595.1 914.9,595.7 918.6,596.6 921.7,597.6 924.5,598.8 927.0,600.2 929.6,601.8 932.3,603.7 935.1,605.7 937.9,608.0 940.8,610.5 943.7,613.4 946.8,616.3 949.9,619.2 953.1,622.0 956.2,624.5 959.2,626.9 962.3,629.3 965.4,631.5 968.5,633.6 971.6,635.5 974.5,637.3 977.4,639.1 980.4,640.8 983.7,642.4 987.4,643.8 991.5,644.9 996.1,645.6 1000.9,645.9 1005.8,646.0 1010.7,645.9 1015.6,645.7 1020.3,645.5 1024.9,645.1 1029.4,644.7 1034.0,644.1 1038.6,643.5 1043.4,642.7 1048.4,641.7 1054.1,640.5 1060.4,639.0 1066.9,637.3 1072.9,635.8 1078.0,634.4 1081.6,633.5 1078.4,620.9 1074.7,621.8 1069.6,623.2 1063.6,624.7 1057.3,626.4 1051.2,627.8 1045.8,629.0 1041.1,629.9 1036.6,630.6 1032.3,631.2 1028.0,631.8 1023.8,632.2 1019.4,632.5 1014.8,632.9 1010.1,633.2 1005.5,633.5 1001.2,633.6 997.2,633.4 993.7,633.1 990.7,632.5 988.1,631.6 985.5,630.6 982.9,629.2 980.2,627.7 977.2,626.1 974.3,624.4 971.3,622.6 968.4,620.7 965.4,618.6 962.4,616.5 959.4,614.2 956.6,611.8 953.7,609.1 950.6,606.1 947.5,603.2 944.3,600.3 941.1,597.8 938.1,595.6 935.2,593.5 932.1,591.6 928.8,589.8 925.3,588.2 921.3,586.9 916.8,585.9 911.9,585.2 906.9,584.7 902.0,584.3 897.2,584.1 892.7,584.0 888.3,584.3 883.8,584.7 879.6,585.3 875.8,585.9 872.7,586.5 870.4,586.9"/>
<polygon fill="#0058ff" points="820.0,587.2 821.2,586.7 822.8,585.9 824.7,584.9 826.7,584.1 828.9,583.6 830.9,583.6 832.8,583.9 834.7,584.5 836.6,585.4 838.6,586.7 841.0,588.5 843.6,590.8 846.7,594.0 850.0,598.0 853.6,602.4 857.4,607.1 861.4,611.8 865.4,616.3 869.6,620.7 874.1,625.2 878.7,629.8 883.4,634.2 888.1,638.2 892.7,641.7 897.2,644.6 901.8,647.0 906.3,649.1 910.8,650.9 915.4,652.7 919.9,654.4 924.4,656.1 928.9,657.6 933.4,659.0 938.0,660.4 942.5,661.9 947.2,663.5 952.3,665.5 957.8,667.7 963.4,670.0 968.6,672.2 973.1,674.0 976.2,675.3 961.7,679.9 958.8,680.8 954.7,682.2 949.9,683.8 944.9,685.4 940.2,686.6 936.3,687.1 933.4,687.1 931.2,686.6 929.2,685.8 927.3,684.6 924.9,683.3 921.7,681.7 917.7,679.9 913.1,677.8 908.0,675.4 902.8,672.9 897.6,670.1 892.7,667.2 888.0,664.1 883.5,661.0 878.9,657.6 874.4,654.0 869.9,649.9 865.4,645.3 860.8,639.9 856.0,633.5 851.2,626.7 846.6,620.0 842.2,614.0 838.2,609.0 834.4,605.2 830.8,602.0 827.4,599.5 824.4,597.4 821.9,595.8 820.0,594.5"/>
<polygon fill="#00ffff" points="878.0,477.5 879.6,475.5 881.7,472.7 884.2,469.5 887.1,466.0 890.0,462.8 893.0,460.0 896.0,457.6 899.3,455.4 902.7,453.4 906.1,451.5 909.6,450.0 913.0,448.8 916.3,447.8 919.6,447.2 922.8,446.8 926.1,446.7 929.5,446.9 933.0,447.5 936.6,448.5 940.2,450.1 943.9,452.0 947.7,453.9 951.6,455.8 955.5,457.5 959.5,459.0 963.6,460.5 967.8,462.0 972.1,463.2 976.3,464.3 980.5,465.0 984.5,465.5 988.4,465.8 992.2,465.9 996.2,465.6 1000.6,464.9 1005.5,463.8 1011.1,462.0 1017.2,459.7 1023.8,457.0 1030.4,453.9 1036.9,450.7 1043.0,447.5 1049.1,443.9 1055.5,439.6 1061.7,435.2 1067.4,431.1 1072.2,427.5 1075.8,425.0 1075.8,477.5 1072.1,479.6 1067.0,482.6 1060.9,486.1 1054.6,489.8 1048.4,493.3 1043.0,496.2 1038.4,498.8 1034.1,501.2 1030.0,503.5 1026.0,505.6 1022.1,507.3 1018.0,508.8 1013.8,509.8 1009.7,510.6 1005.5,511.2 1001.3,511.4 997.2,511.5 993.0,511.2 988.8,510.7 984.7,509.9 980.5,508.8 976.3,507.6 972.2,506.3 968.0,505.0 963.8,503.6 959.5,501.9 955.2,500.2 951.0,498.6 946.9,497.2 943.0,496.2 939.3,495.6 935.9,495.3 932.5,495.2 929.3,495.3 926.1,495.6 923.0,496.2 919.9,497.1 916.9,498.2 913.9,499.5 911.1,501.1 908.2,502.9 905.5,505.0 902.7,507.6 899.8,510.8 896.9,514.3 894.3,517.6 892.1,520.5 890.5,522.5"/>
<polygon fill="#00a8ff" points="881.8,492.5 883.5,490.4 885.8,487.4 888.6,483.8 891.7,480.1 894.9,476.7 898.0,473.8 901.1,471.3 904.5,469.0 907.9,467.0 911.4,465.1 914.8,463.6 918.0,462.5 921.0,461.7 923.8,461.3 926.6,461.2 929.4,461.3 932.3,461.8 935.5,462.5 938.9,463.6 942.5,465.2 946.3,467.0 950.1,469.0 954.0,470.9 958.0,472.5 962.0,474.0 966.1,475.6 970.3,477.0 974.6,478.3 978.8,479.4 983.0,480.0 987.1,480.3 991.0,480.4 994.9,480.2 998.9,479.6 1003.3,478.8 1008.0,477.5 1013.3,475.8 1019.0,473.7 1025.0,471.2 1031.1,468.5 1037.2,465.6 1043.0,462.5 1049.0,458.9 1055.3,454.7 1061.6,450.3 1067.3,446.1 1072.2,442.5 1075.8,440.0 1075.8,451.8 1072.2,454.1 1067.3,457.5 1061.6,461.4 1055.3,465.6 1049.0,469.6 1043.0,473.0 1037.2,476.0 1031.1,478.9 1025.0,481.7 1019.0,484.2 1013.3,486.3 1008.0,488.0 1003.3,489.3 998.9,490.1 994.9,490.7 991.0,490.9 987.1,490.8 983.0,490.5 978.8,489.9 974.5,488.8 970.2,487.5 966.0,486.1 961.9,484.5 958.0,483.0 954.4,481.4 951.0,479.5 947.7,477.5 944.5,475.7 941.3,474.1 938.0,473.0 934.6,472.3 931.2,471.8 927.8,471.6 924.4,471.7 921.2,472.2 918.0,473.0 915.0,474.3 912.1,476.1 909.2,478.2 906.5,480.5 903.7,483.0 901.0,485.5 898.1,488.3 895.0,491.6 891.9,495.0 889.1,498.3 886.7,501.0 885.0,503.0"/>
<polygon fill="#0058ff" points="553.0,535.0 585.5,510.0 628.0,500.0 648.0,515.0 653.0,535.0 678.0,520.0 693.0,500.0 728.0,500.0 730.5,510.0 728.0,535.0 703.0,550.0 653.0,585.0 618.0,617.5 598.0,634.8 585.5,641.5 560.5,659.0 540.0,674.0 478.0,674.0 478.0,585.0"/>
<polygon fill="#0058ff" points="665.5,385.0 680.5,385.0 653.0,442.5 628.0,500.0 585.5,510.0 618.0,460.0 638.0,442.5"/>
<polygon fill="#0058ff" points="738.0,385.0 755.5,385.0 743.0,435.0 718.0,485.0 690.5,517.5 688.0,500.0 715.5,460.0 728.0,422.5"/>
<polygon fill="#0058ff" points="783.0,385.0 800.5,385.0 788.0,422.5 773.0,442.5 768.0,430.0"/>
<polygon fill="#00a8ff" points="564.2,456.2 588.0,425.0 611.0,385.0 629.0,360.0 650.5,360.0 644.0,372.5 624.0,412.8 615.0,428.0 603.0,446.2 591.8,462.5 581.8,471.2"/>
<polygon fill="#00ffff" points="577.6,477.3 579.5,473.5 582.3,468.4 585.5,462.3 589.1,455.7 592.8,449.0 596.3,442.6 599.7,436.3 603.2,429.9 606.8,423.3 610.5,416.7 614.1,410.1 617.6,403.5 621.2,396.5 625.0,389.1 628.7,381.6 632.1,374.6 634.9,368.8 636.9,364.5 635.1,363.5 632.6,367.5 629.2,373.1 625.2,379.7 620.9,386.8 616.5,393.9 612.4,400.5 608.4,406.7 604.2,412.9 600.0,419.2 595.8,425.4 591.7,431.5 587.7,437.4 583.7,443.6 579.6,450.1 575.6,456.5 571.9,462.3 568.7,467.2 566.4,470.7"/>
<polygon fill="#00a8ff" points="492.2,643.4 496.4,641.5 502.2,638.8 509.0,635.4 516.2,631.8 523.2,628.3 529.5,625.1 535.0,622.2 540.2,619.6 545.3,616.9 550.4,614.1 555.5,611.2 560.9,607.8 566.4,604.3 571.9,600.6 577.5,596.7 583.3,592.4 589.2,587.7 595.3,582.6 601.7,576.8 608.4,570.5 615.3,563.7 622.2,556.7 628.7,549.7 634.7,542.7 639.9,535.9 644.6,529.1 648.9,522.3 653.0,515.6 656.9,508.8 660.9,501.8 664.8,494.5 668.7,486.8 672.6,479.1 676.3,471.3 679.8,463.6 683.2,456.0 686.4,448.5 689.6,440.8 692.6,433.2 695.4,425.8 697.9,418.9 700.1,412.5 701.8,406.4 703.1,400.5 704.1,395.2 704.9,390.5 705.5,386.7 705.8,383.8 695.2,381.2 694.1,384.0 692.9,387.7 691.5,392.0 689.9,396.9 688.1,402.1 685.9,407.5 683.5,413.5 680.8,420.1 677.8,427.1 674.6,434.4 671.2,441.7 667.8,449.0 664.3,456.3 660.7,463.7 656.9,471.3 653.0,478.7 649.1,486.1 645.1,493.2 641.3,500.1 637.7,506.8 634.0,513.3 630.1,519.6 625.9,525.9 621.3,532.3 616.1,539.0 610.3,546.0 604.1,553.0 597.8,559.9 591.5,566.4 585.7,572.4 580.3,577.8 575.1,582.7 570.1,587.3 565.0,591.5 560.1,595.7 555.1,599.7 550.3,603.4 545.7,606.8 541.1,610.1 536.5,613.2 531.6,616.5 526.5,619.9 520.6,623.8 514.0,628.1 507.3,632.4 500.9,636.5 495.5,640.0 491.8,642.6"/>
<polygon fill="#00ffff" points="495.6,641.5 499.3,639.6 504.3,637.0 510.3,633.8 516.7,630.4 523.0,627.0 528.8,623.8 534.0,621.0 539.1,618.2 544.2,615.5 549.2,612.7 554.4,609.6 559.7,606.2 565.2,602.7 570.7,599.0 576.3,595.1 582.0,590.9 587.9,586.2 593.9,581.1 600.3,575.4 607.0,569.1 613.9,562.3 620.7,555.4 627.2,548.4 633.1,541.5 638.3,534.7 642.9,528.0 647.2,521.3 651.2,514.6 655.2,507.8 659.1,500.9 663.1,493.5 666.9,485.9 670.8,478.2 674.5,470.4 678.0,462.7 681.4,455.2 684.6,447.6 687.8,439.9 690.8,432.2 693.6,424.8 696.1,418.0 698.2,411.8 699.8,406.2 701.0,401.1 701.8,396.6 702.4,392.7 702.9,389.5 703.1,387.2 695.4,385.3 694.5,387.7 693.6,390.8 692.6,394.4 691.3,398.5 689.7,403.1 687.8,408.2 685.5,414.0 682.8,420.5 679.7,427.6 676.4,435.0 673.0,442.5 669.6,449.8 666.1,457.1 662.5,464.6 658.7,472.2 654.8,479.7 650.9,487.0 646.9,494.1 643.1,501.1 639.4,507.8 635.7,514.3 631.8,520.7 627.6,527.1 622.9,533.5 617.7,540.3 611.8,547.3 605.5,554.4 599.2,561.3 592.9,567.9 587.1,573.9 581.7,579.3 576.4,584.2 571.3,588.8 566.2,593.1 561.2,597.3 556.3,601.3 551.3,605.0 546.6,608.4 541.8,611.7 537.1,614.8 532.2,618.0 527.2,621.2 521.7,624.7 515.6,628.5 509.4,632.3 503.7,635.8 498.8,638.8 495.4,641.0"/>
<polygon fill="#00a8ff" points="633.5,535.3 636.3,531.0 640.2,525.0 644.8,518.0 649.6,510.3 654.3,502.6 658.5,495.3 662.4,487.8 666.3,479.7 670.1,471.5 673.5,463.9 676.4,457.4 678.5,452.7 677.5,452.3 675.3,456.9 672.5,463.4 669.0,471.0 665.2,479.2 661.3,487.3 657.5,494.7 653.3,502.0 648.6,509.7 643.7,517.3 639.2,524.4 635.3,530.4 632.5,534.7"/>
<polygon fill="#00ffff" points="653.9,525.5 656.4,520.5 659.9,513.7 664.0,505.6 668.4,496.9 672.7,488.3 676.4,480.4 679.8,472.7 683.3,464.5 686.6,456.3 689.6,448.8 692.1,442.5 693.9,437.9 692.1,437.1 690.2,441.7 687.7,448.1 684.7,455.6 681.4,463.7 678.0,471.9 674.6,479.6 670.9,487.4 666.6,496.0 662.3,504.7 658.1,512.8 654.6,519.6 652.1,524.5"/>
<polygon fill="#00a8ff" points="475.5,628.8 508.0,600.0 545.5,567.5 563.0,567.5 528.0,600.0 488.0,630.0"/>
<polygon fill="#00a8ff" points="478.5,579.4 480.4,578.8 483.0,578.0 486.1,577.0 489.5,575.9 492.8,574.9 495.9,573.9 499.0,572.9 502.3,571.7 505.6,570.6 508.7,569.6 511.3,568.7 513.1,568.0 512.9,567.0 510.9,567.4 508.2,568.0 505.1,568.7 501.7,569.5 498.2,570.3 495.1,571.1 491.9,572.0 488.6,573.1 485.2,574.1 482.1,575.1 479.4,576.0 477.5,576.6"/>
<polygon fill="#00ffff" points="760.5,402.5 771.8,432.5 749.2,490.0 738.0,470.0"/>
<polygon fill="#00a8ff" points="762.3,419.8 746.0,477.3 747.5,477.7 763.7,420.2"/>
<polygon fill="#00ffff" points="750.5,492.5 764.2,522.5 758.0,528.0 728.0,535.5"/>
<polygon fill="#8fff70" points="750.5,492.5 756.0,507.5 743.0,532.5 728.0,535.5"/>
<polygon fill="#00ffff" points="843.5,357.3 852.6,394.5 799.9,485.3 787.2,458.1"/>
<polygon fill="#00a8ff" points="846.5,375.9 843.5,380.3 839.4,386.3 834.5,393.5 829.2,401.4 824.0,409.7 819.2,417.8 814.6,426.5 809.7,436.5 804.8,446.8 800.3,456.4 796.5,464.6 793.8,470.5 795.1,471.1 797.9,465.3 801.7,457.1 806.1,447.4 811.0,437.2 815.9,427.2 820.5,418.5 825.3,410.4 830.5,402.2 835.7,394.4 840.6,387.2 844.8,381.2 847.8,376.8"/>
<polygon fill="#00a8ff" points="841.2,372.4 838.2,376.6 834.0,382.4 829.0,389.4 823.8,397.0 818.6,404.8 813.9,412.4 809.5,420.4 804.9,429.4 800.4,438.5 796.3,447.1 792.8,454.4 790.3,459.7 791.4,460.2 793.9,454.9 797.3,447.7 801.5,439.1 806.0,429.9 810.5,421.0 815.0,413.0 819.6,405.5 824.8,397.7 830.0,390.1 835.0,383.1 839.2,377.3 842.2,373.0"/>
<polygon fill="#0058ff" points="858.0,429.0 876.2,474.4 841.7,521.7 805.3,494.4"/>
<polygon fill="#0058ff" points="854.4,385.4 872.6,385.4 859.9,401.8 852.6,394.5"/>
<polygon fill="#0058ff" points="660.0,385.4 680.0,385.4 667.3,427.2 660.0,441.7"/>
<polygon fill="#00a8ff" points="800.5,500.0 818.0,525.0 798.0,562.5 783.0,545.0"/>
<polygon fill="#00a8ff" points="883.0,510.0 900.5,532.5 853.0,570.0 840.5,550.0"/>
<polygon fill="#00a8ff" points="790.8,499.9 818.1,499.9 805.3,521.7 798.1,540.0 787.2,540.0"/>
<polygon fill="#48ffb7" points="823.0,525.0 848.0,567.5 813.0,580.0 798.0,562.5"/>
<polygon fill="#00ffff" points="818.0,532.5 835.5,560.0 818.0,572.5 805.5,557.5"/>
<polygon fill="#8fff70" points="823.0,525.0 829.2,535.0 808.0,567.5 798.0,562.5"/>
<polygon fill="#0058ff" points="630.0,607.0 660.0,582.0 700.0,551.0 728.0,536.0 745.0,531.0 770.0,535.0 792.0,549.0 781.0,549.0 750.0,549.0 720.0,553.0 692.7,563.0 660.0,581.0"/>
<polygon fill="#0010ff" points="668.4,580.6 671.8,578.4 676.4,575.3 681.9,571.6 688.0,567.7 694.2,563.9 700.3,560.7 706.6,557.8 713.2,554.9 720.1,552.2 727.0,549.7 733.7,547.5 740.2,545.7 746.7,544.4 753.4,543.4 760.1,542.8 766.2,542.4 771.3,542.1 775.1,541.7 774.9,540.3 771.2,540.6 766.1,540.9 759.9,541.3 753.2,542.0 746.4,542.9 739.8,544.3 733.3,546.1 726.5,548.3 719.5,550.8 712.6,553.5 706.0,556.4 699.7,559.3 693.5,562.6 687.2,566.4 681.1,570.3 675.6,574.0 671.0,577.1 667.6,579.4"/>
<polygon fill="#00a8ff" points="438.0,682.5 442.0,681.8 447.4,680.9 453.9,679.8 461.0,678.5 468.4,677.2 475.5,676.0 482.5,675.1 489.8,674.4 497.4,673.8 505.0,672.7 512.9,670.9 520.8,668.0 529.0,663.7 537.5,658.2 546.1,651.9 554.7,645.4 563.1,638.9 571.0,633.0 578.4,627.7 585.4,622.6 592.2,617.6 598.9,612.6 605.8,607.4 613.0,602.0 620.7,596.1 628.9,589.7 637.2,583.1 645.4,576.8 653.1,571.0 660.0,566.0 666.1,562.0 671.6,558.6 676.6,555.8 681.2,553.4 685.7,551.2 690.0,549.0 694.4,546.9 698.7,545.1 702.9,543.4 706.6,542.0 709.7,540.9 712.0,540.0 728.0,535.5 725.1,536.7 721.2,538.1 716.5,540.0 711.3,542.2 705.7,544.8 700.0,548.0 694.1,551.7 687.8,556.0 681.2,560.7 674.3,565.7 667.2,571.0 660.0,576.5 652.5,582.4 644.7,588.7 636.6,595.3 628.6,602.0 620.6,608.5 613.0,614.5 605.8,620.0 598.9,625.2 592.2,630.2 585.4,635.2 578.4,640.2 571.0,645.5 562.9,651.2 554.2,657.4 545.3,663.6 536.5,669.6 528.3,675.2 520.8,680.0 514.2,684.0 508.3,687.4 502.8,690.4 497.7,692.9 492.8,695.3 488.0,697.5 483.1,699.6 478.2,701.4 473.4,703.0 469.2,704.3 465.6,705.4 463.0,706.2"/>
<polygon fill="#48ffb7" points="463.0,706.2 465.6,705.4 469.2,704.3 473.4,703.0 478.2,701.4 483.1,699.6 488.0,697.5 492.8,695.3 497.7,692.9 502.8,690.4 508.3,687.4 514.2,684.0 520.8,680.0 528.3,675.2 536.5,669.6 545.3,663.6 554.2,657.4 562.9,651.2 571.0,645.5 578.4,640.2 585.4,635.2 592.2,630.2 598.9,625.2 605.8,620.0 613.0,614.5 620.6,608.5 628.6,602.0 636.6,595.3 644.7,588.7 652.5,582.4 660.0,576.5 667.2,571.0 674.3,565.7 681.2,560.7 687.8,556.0 694.1,551.7 700.0,548.0 705.7,544.8 711.3,542.2 716.5,540.0 721.2,538.1 725.1,536.7 728.0,535.5 728.0,536.0 725.1,537.4 721.2,539.3 716.5,541.6 711.3,544.3 705.7,547.4 700.0,551.0 694.1,555.2 687.8,559.9 681.2,565.0 674.3,570.5 667.2,576.2 660.0,582.0 652.5,588.1 644.7,594.5 636.6,601.2 628.6,607.9 620.6,614.5 613.0,620.7 605.8,626.5 598.9,632.1 592.2,637.5 585.4,642.8 578.4,648.3 571.0,654.0 562.8,660.2 553.8,666.9 544.5,673.7 535.6,680.2 527.5,686.1 520.8,691.0 515.7,694.7 512.0,697.5 509.1,699.6 506.5,701.4 503.8,703.1 500.5,705.0 496.3,707.2 491.6,709.4 486.7,711.5 482.2,713.4 478.3,715.1 475.5,716.2"/>
<polygon fill="#ff8000" points="866.0,726.0 893.0,707.5 907.0,700.0 921.7,692.6 947.0,681.7 1001.7,670.8 1020.0,663.5 1047.0,654.4 1085.0,640.0 1085.0,697.5 1030.5,703.8 1005.5,707.5 968.0,713.8 930.5,718.8 893.0,723.8"/>
</g></g>
<!-- axes box -->
<rect x="238.6" y="85.2" width="836.6" height="834" fill="none" stroke="#262626" stroke-width="4"/>
<g stroke="#262626" stroke-width="3.4">
<path d="M510.3 87v9M783.5 87v9M1055.3 87v9M510.3 917.5v-9M783.5 917.5v-9M1055.3 917.5v-9"/>
<path d="M240 356.5h9M240 629h9M240 901h9M1073.5 356.5h-9M1073.5 629h-9M1073.5 901h-9"/>
</g>
<!-- colorbar -->
<rect x="1144" y="902.94" width="55" height="13.66" fill="#000087"/>
<rect x="1144" y="889.88" width="55" height="13.66" fill="#000097"/>
<rect x="1144" y="876.81" width="55" height="13.66" fill="#0000a7"/>
<rect x="1144" y="863.75" width="55" height="13.66" fill="#0000b7"/>
<rect x="1144" y="850.69" width="55" height="13.66" fill="#0000c7"/>
<rect x="1144" y="837.62" width="55" height="13.66" fill="#0000d7"/>
<rect x="1144" y="824.56" width="55" height="13.66" fill="#0000e7"/>
<rect x="1144" y="811.50" width="55" height="13.66" fill="#0000f7"/>
<rect x="1144" y="798.44" width="55" height="13.66" fill="#0008ff"/>
<rect x="1144" y="785.38" width="55" height="13.66" fill="#0018ff"/>
<rect x="1144" y="772.31" width="55" height="13.66" fill="#0028ff"/>
<rect x="1144" y="759.25" width="55" height="13.66" fill="#0038ff"/>
<rect x="1144" y="746.19" width="55" height="13.66" fill="#0048ff"/>
<rect x="1144" y="733.12" width="55" height="13.66" fill="#0058ff"/>
<rect x="1144" y="720.06" width="55" height="13.66" fill="#0068ff"/>
<rect x="1144" y="707.00" width="55" height="13.66" fill="#0078ff"/>
<rect x="1144" y="693.94" width="55" height="13.66" fill="#0087ff"/>
<rect x="1144" y="680.88" width="55" height="13.66" fill="#0097ff"/>
<rect x="1144" y="667.81" width="55" height="13.66" fill="#00a7ff"/>
<rect x="1144" y="654.75" width="55" height="13.66" fill="#00b7ff"/>
<rect x="1144" y="641.69" width="55" height="13.66" fill="#00c7ff"/>
<rect x="1144" y="628.62" width="55" height="13.66" fill="#00d7ff"/>
<rect x="1144" y="615.56" width="55" height="13.66" fill="#00e7ff"/>
<rect x="1144" y="602.50" width="55" height="13.66" fill="#00f7ff"/>
<rect x="1144" y="589.44" width="55" height="13.66" fill="#08fff7"/>
<rect x="1144" y="576.38" width="55" height="13.66" fill="#18ffe7"/>
<rect x="1144" y="563.31" width="55" height="13.66" fill="#28ffd7"/>
<rect x="1144" y="550.25" width="55" height="13.66" fill="#38ffc7"/>
<rect x="1144" y="537.19" width="55" height="13.66" fill="#48ffb7"/>
<rect x="1144" y="524.12" width="55" height="13.66" fill="#58ffa7"/>
<rect x="1144" y="511.06" width="55" height="13.66" fill="#68ff97"/>
<rect x="1144" y="498.00" width="55" height="13.66" fill="#78ff87"/>
<rect x="1144" y="484.94" width="55" height="13.66" fill="#87ff78"/>
<rect x="1144" y="471.88" width="55" height="13.66" fill="#97ff68"/>
<rect x="1144" y="458.81" width="55" height="13.66" fill="#a7ff58"/>
<rect x="1144" y="445.75" width="55" height="13.66" fill="#b7ff48"/>
<rect x="1144" y="432.69" width="55" height="13.66" fill="#c7ff38"/>
<rect x="1144" y="419.62" width="55" height="13.66" fill="#d7ff28"/>
<rect x="1144" y="406.56" width="55" height="13.66" fill="#e7ff18"/>
<rect x="1144" y="393.50" width="55" height="13.66" fill="#f7ff08"/>
<rect x="1144" y="380.44" width="55" height="13.66" fill="#fff700"/>
<rect x="1144" y="367.38" width="55" height="13.66" fill="#ffe700"/>
<rect x="1144" y="354.31" width="55" height="13.66" fill="#ffd700"/>
<rect x="1144" y="341.25" width="55" height="13.66" fill="#ffc700"/>
<rect x="1144" y="328.19" width="55" height="13.66" fill="#ffb700"/>
<rect x="1144" y="315.12" width="55" height="13.66" fill="#ffa700"/>
<rect x="1144" y="302.06" width="55" height="13.66" fill="#ff9700"/>
<rect x="1144" y="289.00" width="55" height="13.66" fill="#ff8700"/>
<rect x="1144" y="275.94" width="55" height="13.66" fill="#ff7800"/>
<rect x="1144" y="262.88" width="55" height="13.66" fill="#ff6800"/>
<rect x="1144" y="249.81" width="55" height="13.66" fill="#ff5800"/>
<rect x="1144" y="236.75" width="55" height="13.66" fill="#ff4800"/>
<rect x="1144" y="223.69" width="55" height="13.66" fill="#ff3800"/>
<rect x="1144" y="210.62" width="55" height="13.66" fill="#ff2800"/>
<rect x="1144" y="197.56" width="55" height="13.66" fill="#ff1800"/>
<rect x="1144" y="184.50" width="55" height="13.66" fill="#ff0800"/>
<rect x="1144" y="171.44" width="55" height="13.66" fill="#f70000"/>
<rect x="1144" y="158.38" width="55" height="13.66" fill="#e70000"/>
<rect x="1144" y="145.31" width="55" height="13.66" fill="#d70000"/>
<rect x="1144" y="132.25" width="55" height="13.66" fill="#c70000"/>
<rect x="1144" y="119.19" width="55" height="13.66" fill="#b70000"/>
<rect x="1144" y="106.12" width="55" height="13.66" fill="#a70000"/>
<rect x="1144" y="93.06" width="55" height="13.66" fill="#970000"/>
<rect x="1144" y="80.00" width="55" height="13.66" fill="#870000"/>
<rect x="1142.9" y="79.9" width="57.2" height="837.2" fill="none" stroke="#d9dcdc" stroke-width="1.2"/>
<rect x="1143.8" y="80.8" width="55.5" height="835.5" fill="none" stroke="#3c3c4c" stroke-width="1"/>
<g stroke="#3a3a3a" stroke-width="1.4"><path d="M1199 220.5h-9M1199 359.5h-9M1199 498.5h-9M1199 638h-9M1199 777.5h-9"/></g>
<!-- text -->
<g class="tk" text-anchor="end">
<text x="220" y="107.5">0</text>
<text x="220" y="379">500</text>
<text x="220" y="651.5">1000</text>
<text x="220" y="923.5">1500</text>
</g>
<g class="tk" text-anchor="middle">
<text x="238.6" y="995.6">0</text>
<text x="510.5" y="995.6">500</text>
<text x="783" y="995.6">1000</text>
<text x="1054.7" y="995.6">1500</text>
</g>
<g class="ck">
<text x="1217.5" y="102">4000</text>
<text x="1217.5" y="240.2">3500</text>
<text x="1217.5" y="379.5">3000</text>
<text x="1217.5" y="518.5">2500</text>
<text x="1217.5" y="658">2000</text>
<text x="1217.5" y="797.5">1500</text>
<text x="1217.5" y="937">1000</text>
</g>
<text class="lb" x="658" y="1071" text-anchor="middle">Distance (m)</text>
<text class="lb" transform="translate(71.5,503.5) rotate(-90)" text-anchor="middle">Depth (m)</text>
<text class="cl" transform="translate(1397,500) rotate(-90)" text-anchor="middle">Velocity (m/s)</text>
</svg>
</body></html>
